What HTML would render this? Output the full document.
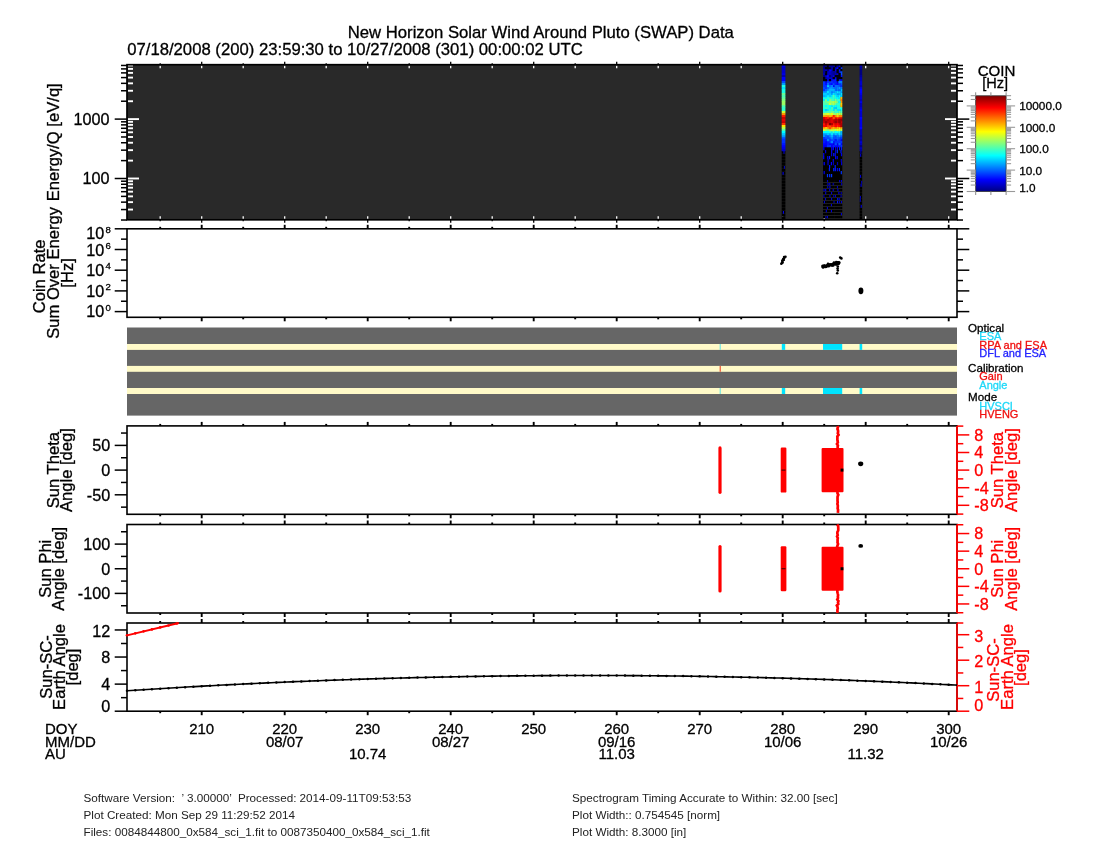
<!DOCTYPE html>
<html><head><meta charset="utf-8"><title>SWAP</title>
<style>html,body{margin:0;padding:0;background:#fff;width:1100px;height:850px;overflow:hidden}
svg{display:block} text{font-family:'Liberation Sans',sans-serif}</style></head>
<body><div style="will-change:transform;width:1100px;height:850px;background:#fff"><svg width="1100" height="850" viewBox="0 0 1100 850">
<rect x="0" y="0" width="1100" height="850" fill="#fff"/>
<text x="540.80" y="38.30" font-size="16.7" text-anchor="middle" fill="#000" stroke="#000" stroke-width="0.3" >New Horizon Solar Wind Around Pluto (SWAP) Data</text>
<text x="127.20" y="54.50" font-size="16.7" text-anchor="start" fill="#000" stroke="#000" stroke-width="0.3" >07/18/2008 (200) 23:59:30 to 10/27/2008 (301) 00:00:02 UTC</text>
<rect x="127.00" y="64.70" width="830.00" height="155.10" fill="#292929"/>
<line x1="121.00" y1="220.02" x2="127.00" y2="220.02" stroke="#000" stroke-width="1.5"/>
<line x1="127.80" y1="220.02" x2="133.00" y2="220.02" stroke="#fff" stroke-width="1.9"/>
<line x1="957.00" y1="220.02" x2="963.00" y2="220.02" stroke="#000" stroke-width="1.5"/>
<line x1="951.00" y1="220.02" x2="956.20" y2="220.02" stroke="#fff" stroke-width="1.9"/>
<line x1="121.00" y1="209.56" x2="127.00" y2="209.56" stroke="#000" stroke-width="1.5"/>
<line x1="127.80" y1="209.56" x2="133.00" y2="209.56" stroke="#fff" stroke-width="1.9"/>
<line x1="957.00" y1="209.56" x2="963.00" y2="209.56" stroke="#000" stroke-width="1.5"/>
<line x1="951.00" y1="209.56" x2="956.20" y2="209.56" stroke="#fff" stroke-width="1.9"/>
<line x1="121.00" y1="202.14" x2="127.00" y2="202.14" stroke="#000" stroke-width="1.5"/>
<line x1="127.80" y1="202.14" x2="133.00" y2="202.14" stroke="#fff" stroke-width="1.9"/>
<line x1="957.00" y1="202.14" x2="963.00" y2="202.14" stroke="#000" stroke-width="1.5"/>
<line x1="951.00" y1="202.14" x2="956.20" y2="202.14" stroke="#fff" stroke-width="1.9"/>
<line x1="121.00" y1="196.38" x2="127.00" y2="196.38" stroke="#000" stroke-width="1.5"/>
<line x1="127.80" y1="196.38" x2="133.00" y2="196.38" stroke="#fff" stroke-width="1.9"/>
<line x1="957.00" y1="196.38" x2="963.00" y2="196.38" stroke="#000" stroke-width="1.5"/>
<line x1="951.00" y1="196.38" x2="956.20" y2="196.38" stroke="#fff" stroke-width="1.9"/>
<line x1="121.00" y1="191.68" x2="127.00" y2="191.68" stroke="#000" stroke-width="1.5"/>
<line x1="127.80" y1="191.68" x2="133.00" y2="191.68" stroke="#fff" stroke-width="1.9"/>
<line x1="957.00" y1="191.68" x2="963.00" y2="191.68" stroke="#000" stroke-width="1.5"/>
<line x1="951.00" y1="191.68" x2="956.20" y2="191.68" stroke="#fff" stroke-width="1.9"/>
<line x1="121.00" y1="187.70" x2="127.00" y2="187.70" stroke="#000" stroke-width="1.5"/>
<line x1="127.80" y1="187.70" x2="133.00" y2="187.70" stroke="#fff" stroke-width="1.9"/>
<line x1="957.00" y1="187.70" x2="963.00" y2="187.70" stroke="#000" stroke-width="1.5"/>
<line x1="951.00" y1="187.70" x2="956.20" y2="187.70" stroke="#fff" stroke-width="1.9"/>
<line x1="121.00" y1="184.26" x2="127.00" y2="184.26" stroke="#000" stroke-width="1.5"/>
<line x1="127.80" y1="184.26" x2="133.00" y2="184.26" stroke="#fff" stroke-width="1.9"/>
<line x1="957.00" y1="184.26" x2="963.00" y2="184.26" stroke="#000" stroke-width="1.5"/>
<line x1="951.00" y1="184.26" x2="956.20" y2="184.26" stroke="#fff" stroke-width="1.9"/>
<line x1="121.00" y1="181.22" x2="127.00" y2="181.22" stroke="#000" stroke-width="1.5"/>
<line x1="127.80" y1="181.22" x2="133.00" y2="181.22" stroke="#fff" stroke-width="1.9"/>
<line x1="957.00" y1="181.22" x2="963.00" y2="181.22" stroke="#000" stroke-width="1.5"/>
<line x1="951.00" y1="181.22" x2="956.20" y2="181.22" stroke="#fff" stroke-width="1.9"/>
<line x1="114.70" y1="178.50" x2="127.00" y2="178.50" stroke="#000" stroke-width="1.5"/>
<line x1="127.80" y1="178.50" x2="139.00" y2="178.50" stroke="#fff" stroke-width="1.9"/>
<line x1="957.00" y1="178.50" x2="969.30" y2="178.50" stroke="#000" stroke-width="1.5"/>
<line x1="945.00" y1="178.50" x2="956.20" y2="178.50" stroke="#fff" stroke-width="1.9"/>
<line x1="121.00" y1="160.62" x2="127.00" y2="160.62" stroke="#000" stroke-width="1.5"/>
<line x1="127.80" y1="160.62" x2="133.00" y2="160.62" stroke="#fff" stroke-width="1.9"/>
<line x1="957.00" y1="160.62" x2="963.00" y2="160.62" stroke="#000" stroke-width="1.5"/>
<line x1="951.00" y1="160.62" x2="956.20" y2="160.62" stroke="#fff" stroke-width="1.9"/>
<line x1="121.00" y1="150.16" x2="127.00" y2="150.16" stroke="#000" stroke-width="1.5"/>
<line x1="127.80" y1="150.16" x2="133.00" y2="150.16" stroke="#fff" stroke-width="1.9"/>
<line x1="957.00" y1="150.16" x2="963.00" y2="150.16" stroke="#000" stroke-width="1.5"/>
<line x1="951.00" y1="150.16" x2="956.20" y2="150.16" stroke="#fff" stroke-width="1.9"/>
<line x1="121.00" y1="142.74" x2="127.00" y2="142.74" stroke="#000" stroke-width="1.5"/>
<line x1="127.80" y1="142.74" x2="133.00" y2="142.74" stroke="#fff" stroke-width="1.9"/>
<line x1="957.00" y1="142.74" x2="963.00" y2="142.74" stroke="#000" stroke-width="1.5"/>
<line x1="951.00" y1="142.74" x2="956.20" y2="142.74" stroke="#fff" stroke-width="1.9"/>
<line x1="121.00" y1="136.98" x2="127.00" y2="136.98" stroke="#000" stroke-width="1.5"/>
<line x1="127.80" y1="136.98" x2="133.00" y2="136.98" stroke="#fff" stroke-width="1.9"/>
<line x1="957.00" y1="136.98" x2="963.00" y2="136.98" stroke="#000" stroke-width="1.5"/>
<line x1="951.00" y1="136.98" x2="956.20" y2="136.98" stroke="#fff" stroke-width="1.9"/>
<line x1="121.00" y1="132.28" x2="127.00" y2="132.28" stroke="#000" stroke-width="1.5"/>
<line x1="127.80" y1="132.28" x2="133.00" y2="132.28" stroke="#fff" stroke-width="1.9"/>
<line x1="957.00" y1="132.28" x2="963.00" y2="132.28" stroke="#000" stroke-width="1.5"/>
<line x1="951.00" y1="132.28" x2="956.20" y2="132.28" stroke="#fff" stroke-width="1.9"/>
<line x1="121.00" y1="128.30" x2="127.00" y2="128.30" stroke="#000" stroke-width="1.5"/>
<line x1="127.80" y1="128.30" x2="133.00" y2="128.30" stroke="#fff" stroke-width="1.9"/>
<line x1="957.00" y1="128.30" x2="963.00" y2="128.30" stroke="#000" stroke-width="1.5"/>
<line x1="951.00" y1="128.30" x2="956.20" y2="128.30" stroke="#fff" stroke-width="1.9"/>
<line x1="121.00" y1="124.86" x2="127.00" y2="124.86" stroke="#000" stroke-width="1.5"/>
<line x1="127.80" y1="124.86" x2="133.00" y2="124.86" stroke="#fff" stroke-width="1.9"/>
<line x1="957.00" y1="124.86" x2="963.00" y2="124.86" stroke="#000" stroke-width="1.5"/>
<line x1="951.00" y1="124.86" x2="956.20" y2="124.86" stroke="#fff" stroke-width="1.9"/>
<line x1="121.00" y1="121.82" x2="127.00" y2="121.82" stroke="#000" stroke-width="1.5"/>
<line x1="127.80" y1="121.82" x2="133.00" y2="121.82" stroke="#fff" stroke-width="1.9"/>
<line x1="957.00" y1="121.82" x2="963.00" y2="121.82" stroke="#000" stroke-width="1.5"/>
<line x1="951.00" y1="121.82" x2="956.20" y2="121.82" stroke="#fff" stroke-width="1.9"/>
<line x1="114.70" y1="119.10" x2="127.00" y2="119.10" stroke="#000" stroke-width="1.5"/>
<line x1="127.80" y1="119.10" x2="139.00" y2="119.10" stroke="#fff" stroke-width="1.9"/>
<line x1="957.00" y1="119.10" x2="969.30" y2="119.10" stroke="#000" stroke-width="1.5"/>
<line x1="945.00" y1="119.10" x2="956.20" y2="119.10" stroke="#fff" stroke-width="1.9"/>
<line x1="121.00" y1="101.22" x2="127.00" y2="101.22" stroke="#000" stroke-width="1.5"/>
<line x1="127.80" y1="101.22" x2="133.00" y2="101.22" stroke="#fff" stroke-width="1.9"/>
<line x1="957.00" y1="101.22" x2="963.00" y2="101.22" stroke="#000" stroke-width="1.5"/>
<line x1="951.00" y1="101.22" x2="956.20" y2="101.22" stroke="#fff" stroke-width="1.9"/>
<line x1="121.00" y1="90.76" x2="127.00" y2="90.76" stroke="#000" stroke-width="1.5"/>
<line x1="127.80" y1="90.76" x2="133.00" y2="90.76" stroke="#fff" stroke-width="1.9"/>
<line x1="957.00" y1="90.76" x2="963.00" y2="90.76" stroke="#000" stroke-width="1.5"/>
<line x1="951.00" y1="90.76" x2="956.20" y2="90.76" stroke="#fff" stroke-width="1.9"/>
<line x1="121.00" y1="83.34" x2="127.00" y2="83.34" stroke="#000" stroke-width="1.5"/>
<line x1="127.80" y1="83.34" x2="133.00" y2="83.34" stroke="#fff" stroke-width="1.9"/>
<line x1="957.00" y1="83.34" x2="963.00" y2="83.34" stroke="#000" stroke-width="1.5"/>
<line x1="951.00" y1="83.34" x2="956.20" y2="83.34" stroke="#fff" stroke-width="1.9"/>
<line x1="121.00" y1="77.58" x2="127.00" y2="77.58" stroke="#000" stroke-width="1.5"/>
<line x1="127.80" y1="77.58" x2="133.00" y2="77.58" stroke="#fff" stroke-width="1.9"/>
<line x1="957.00" y1="77.58" x2="963.00" y2="77.58" stroke="#000" stroke-width="1.5"/>
<line x1="951.00" y1="77.58" x2="956.20" y2="77.58" stroke="#fff" stroke-width="1.9"/>
<line x1="121.00" y1="72.88" x2="127.00" y2="72.88" stroke="#000" stroke-width="1.5"/>
<line x1="127.80" y1="72.88" x2="133.00" y2="72.88" stroke="#fff" stroke-width="1.9"/>
<line x1="957.00" y1="72.88" x2="963.00" y2="72.88" stroke="#000" stroke-width="1.5"/>
<line x1="951.00" y1="72.88" x2="956.20" y2="72.88" stroke="#fff" stroke-width="1.9"/>
<line x1="121.00" y1="68.90" x2="127.00" y2="68.90" stroke="#000" stroke-width="1.5"/>
<line x1="127.80" y1="68.90" x2="133.00" y2="68.90" stroke="#fff" stroke-width="1.9"/>
<line x1="957.00" y1="68.90" x2="963.00" y2="68.90" stroke="#000" stroke-width="1.5"/>
<line x1="951.00" y1="68.90" x2="956.20" y2="68.90" stroke="#fff" stroke-width="1.9"/>
<line x1="121.00" y1="65.46" x2="127.00" y2="65.46" stroke="#000" stroke-width="1.5"/>
<line x1="127.80" y1="65.46" x2="133.00" y2="65.46" stroke="#fff" stroke-width="1.9"/>
<line x1="957.00" y1="65.46" x2="963.00" y2="65.46" stroke="#000" stroke-width="1.5"/>
<line x1="951.00" y1="65.46" x2="956.20" y2="65.46" stroke="#fff" stroke-width="1.9"/>
<line x1="160.20" y1="63.20" x2="160.20" y2="64.70" stroke="#000" stroke-width="1.3"/>
<line x1="160.20" y1="219.80" x2="160.20" y2="221.30" stroke="#000" stroke-width="1.3"/>
<line x1="160.20" y1="65.70" x2="160.20" y2="68.20" stroke="#fff" stroke-width="1.3"/>
<line x1="160.20" y1="216.30" x2="160.20" y2="218.80" stroke="#fff" stroke-width="1.3"/>
<line x1="201.70" y1="61.70" x2="201.70" y2="64.70" stroke="#000" stroke-width="1.3"/>
<line x1="201.70" y1="219.80" x2="201.70" y2="222.80" stroke="#000" stroke-width="1.3"/>
<line x1="201.70" y1="65.70" x2="201.70" y2="68.20" stroke="#fff" stroke-width="1.3"/>
<line x1="201.70" y1="216.30" x2="201.70" y2="218.80" stroke="#fff" stroke-width="1.3"/>
<line x1="243.20" y1="63.20" x2="243.20" y2="64.70" stroke="#000" stroke-width="1.3"/>
<line x1="243.20" y1="219.80" x2="243.20" y2="221.30" stroke="#000" stroke-width="1.3"/>
<line x1="243.20" y1="65.70" x2="243.20" y2="68.20" stroke="#fff" stroke-width="1.3"/>
<line x1="243.20" y1="216.30" x2="243.20" y2="218.80" stroke="#fff" stroke-width="1.3"/>
<line x1="284.70" y1="61.70" x2="284.70" y2="64.70" stroke="#000" stroke-width="1.3"/>
<line x1="284.70" y1="219.80" x2="284.70" y2="222.80" stroke="#000" stroke-width="1.3"/>
<line x1="284.70" y1="65.70" x2="284.70" y2="68.20" stroke="#fff" stroke-width="1.3"/>
<line x1="284.70" y1="216.30" x2="284.70" y2="218.80" stroke="#fff" stroke-width="1.3"/>
<line x1="326.20" y1="63.20" x2="326.20" y2="64.70" stroke="#000" stroke-width="1.3"/>
<line x1="326.20" y1="219.80" x2="326.20" y2="221.30" stroke="#000" stroke-width="1.3"/>
<line x1="326.20" y1="65.70" x2="326.20" y2="68.20" stroke="#fff" stroke-width="1.3"/>
<line x1="326.20" y1="216.30" x2="326.20" y2="218.80" stroke="#fff" stroke-width="1.3"/>
<line x1="367.70" y1="61.70" x2="367.70" y2="64.70" stroke="#000" stroke-width="1.3"/>
<line x1="367.70" y1="219.80" x2="367.70" y2="222.80" stroke="#000" stroke-width="1.3"/>
<line x1="367.70" y1="65.70" x2="367.70" y2="68.20" stroke="#fff" stroke-width="1.3"/>
<line x1="367.70" y1="216.30" x2="367.70" y2="218.80" stroke="#fff" stroke-width="1.3"/>
<line x1="409.20" y1="63.20" x2="409.20" y2="64.70" stroke="#000" stroke-width="1.3"/>
<line x1="409.20" y1="219.80" x2="409.20" y2="221.30" stroke="#000" stroke-width="1.3"/>
<line x1="409.20" y1="65.70" x2="409.20" y2="68.20" stroke="#fff" stroke-width="1.3"/>
<line x1="409.20" y1="216.30" x2="409.20" y2="218.80" stroke="#fff" stroke-width="1.3"/>
<line x1="450.70" y1="61.70" x2="450.70" y2="64.70" stroke="#000" stroke-width="1.3"/>
<line x1="450.70" y1="219.80" x2="450.70" y2="222.80" stroke="#000" stroke-width="1.3"/>
<line x1="450.70" y1="65.70" x2="450.70" y2="68.20" stroke="#fff" stroke-width="1.3"/>
<line x1="450.70" y1="216.30" x2="450.70" y2="218.80" stroke="#fff" stroke-width="1.3"/>
<line x1="492.20" y1="63.20" x2="492.20" y2="64.70" stroke="#000" stroke-width="1.3"/>
<line x1="492.20" y1="219.80" x2="492.20" y2="221.30" stroke="#000" stroke-width="1.3"/>
<line x1="492.20" y1="65.70" x2="492.20" y2="68.20" stroke="#fff" stroke-width="1.3"/>
<line x1="492.20" y1="216.30" x2="492.20" y2="218.80" stroke="#fff" stroke-width="1.3"/>
<line x1="533.70" y1="61.70" x2="533.70" y2="64.70" stroke="#000" stroke-width="1.3"/>
<line x1="533.70" y1="219.80" x2="533.70" y2="222.80" stroke="#000" stroke-width="1.3"/>
<line x1="533.70" y1="65.70" x2="533.70" y2="68.20" stroke="#fff" stroke-width="1.3"/>
<line x1="533.70" y1="216.30" x2="533.70" y2="218.80" stroke="#fff" stroke-width="1.3"/>
<line x1="575.20" y1="63.20" x2="575.20" y2="64.70" stroke="#000" stroke-width="1.3"/>
<line x1="575.20" y1="219.80" x2="575.20" y2="221.30" stroke="#000" stroke-width="1.3"/>
<line x1="575.20" y1="65.70" x2="575.20" y2="68.20" stroke="#fff" stroke-width="1.3"/>
<line x1="575.20" y1="216.30" x2="575.20" y2="218.80" stroke="#fff" stroke-width="1.3"/>
<line x1="616.70" y1="61.70" x2="616.70" y2="64.70" stroke="#000" stroke-width="1.3"/>
<line x1="616.70" y1="219.80" x2="616.70" y2="222.80" stroke="#000" stroke-width="1.3"/>
<line x1="616.70" y1="65.70" x2="616.70" y2="68.20" stroke="#fff" stroke-width="1.3"/>
<line x1="616.70" y1="216.30" x2="616.70" y2="218.80" stroke="#fff" stroke-width="1.3"/>
<line x1="658.20" y1="63.20" x2="658.20" y2="64.70" stroke="#000" stroke-width="1.3"/>
<line x1="658.20" y1="219.80" x2="658.20" y2="221.30" stroke="#000" stroke-width="1.3"/>
<line x1="658.20" y1="65.70" x2="658.20" y2="68.20" stroke="#fff" stroke-width="1.3"/>
<line x1="658.20" y1="216.30" x2="658.20" y2="218.80" stroke="#fff" stroke-width="1.3"/>
<line x1="699.70" y1="61.70" x2="699.70" y2="64.70" stroke="#000" stroke-width="1.3"/>
<line x1="699.70" y1="219.80" x2="699.70" y2="222.80" stroke="#000" stroke-width="1.3"/>
<line x1="699.70" y1="65.70" x2="699.70" y2="68.20" stroke="#fff" stroke-width="1.3"/>
<line x1="699.70" y1="216.30" x2="699.70" y2="218.80" stroke="#fff" stroke-width="1.3"/>
<line x1="741.20" y1="63.20" x2="741.20" y2="64.70" stroke="#000" stroke-width="1.3"/>
<line x1="741.20" y1="219.80" x2="741.20" y2="221.30" stroke="#000" stroke-width="1.3"/>
<line x1="741.20" y1="65.70" x2="741.20" y2="68.20" stroke="#fff" stroke-width="1.3"/>
<line x1="741.20" y1="216.30" x2="741.20" y2="218.80" stroke="#fff" stroke-width="1.3"/>
<line x1="782.70" y1="61.70" x2="782.70" y2="64.70" stroke="#000" stroke-width="1.3"/>
<line x1="782.70" y1="219.80" x2="782.70" y2="222.80" stroke="#000" stroke-width="1.3"/>
<line x1="782.70" y1="65.70" x2="782.70" y2="68.20" stroke="#fff" stroke-width="1.3"/>
<line x1="782.70" y1="216.30" x2="782.70" y2="218.80" stroke="#fff" stroke-width="1.3"/>
<line x1="824.20" y1="63.20" x2="824.20" y2="64.70" stroke="#000" stroke-width="1.3"/>
<line x1="824.20" y1="219.80" x2="824.20" y2="221.30" stroke="#000" stroke-width="1.3"/>
<line x1="824.20" y1="65.70" x2="824.20" y2="68.20" stroke="#fff" stroke-width="1.3"/>
<line x1="824.20" y1="216.30" x2="824.20" y2="218.80" stroke="#fff" stroke-width="1.3"/>
<line x1="865.70" y1="61.70" x2="865.70" y2="64.70" stroke="#000" stroke-width="1.3"/>
<line x1="865.70" y1="219.80" x2="865.70" y2="222.80" stroke="#000" stroke-width="1.3"/>
<line x1="865.70" y1="65.70" x2="865.70" y2="68.20" stroke="#fff" stroke-width="1.3"/>
<line x1="865.70" y1="216.30" x2="865.70" y2="218.80" stroke="#fff" stroke-width="1.3"/>
<line x1="907.20" y1="63.20" x2="907.20" y2="64.70" stroke="#000" stroke-width="1.3"/>
<line x1="907.20" y1="219.80" x2="907.20" y2="221.30" stroke="#000" stroke-width="1.3"/>
<line x1="907.20" y1="65.70" x2="907.20" y2="68.20" stroke="#fff" stroke-width="1.3"/>
<line x1="907.20" y1="216.30" x2="907.20" y2="218.80" stroke="#fff" stroke-width="1.3"/>
<line x1="948.70" y1="61.70" x2="948.70" y2="64.70" stroke="#000" stroke-width="1.3"/>
<line x1="948.70" y1="219.80" x2="948.70" y2="222.80" stroke="#000" stroke-width="1.3"/>
<line x1="948.70" y1="65.70" x2="948.70" y2="68.20" stroke="#fff" stroke-width="1.3"/>
<line x1="948.70" y1="216.30" x2="948.70" y2="218.80" stroke="#fff" stroke-width="1.3"/>
<path fill="#000000" d="M781.7 151.0h3.7v2.8h-3.7zM781.7 154.0h3.7v2.8h-3.7zM781.7 157.0h3.7v2.8h-3.7zM781.7 160.0h3.7v2.8h-3.7zM781.7 163.0h3.7v2.8h-3.7zM781.7 166.0h3.7v2.8h-3.7zM781.7 169.0h3.7v2.8h-3.7zM781.7 172.0h3.7v2.8h-3.7zM781.7 175.0h3.7v2.8h-3.7zM781.7 178.0h3.7v2.8h-3.7zM781.7 181.0h3.7v2.8h-3.7zM781.7 184.0h3.7v2.8h-3.7zM781.7 187.0h3.7v2.8h-3.7zM781.7 190.0h3.7v2.8h-3.7zM781.7 193.0h3.7v2.8h-3.7zM781.7 196.0h3.7v2.8h-3.7zM781.7 199.0h3.7v2.8h-3.7zM781.7 202.0h3.7v2.8h-3.7zM781.7 205.0h3.7v2.8h-3.7zM781.7 208.0h3.7v2.8h-3.7zM781.7 211.0h3.7v2.8h-3.7zM781.7 214.0h3.7v2.8h-3.7zM781.7 217.0h3.7v2.8h-3.7zM823.0 147.0h2.3v3.3h-2.3zM824.9 147.0h2.3v3.3h-2.3zM826.9 147.0h2.3v3.3h-2.3zM828.8 147.0h2.3v3.3h-2.3zM830.7 147.0h2.3v3.3h-2.3zM832.6 147.0h2.3v3.3h-2.3zM834.6 147.0h2.3v3.3h-2.3zM836.5 147.0h2.3v3.3h-2.3zM838.4 147.0h2.3v3.3h-2.3zM840.4 147.0h1.9v3.3h-1.9zM823.0 150.0h2.3v3.3h-2.3zM824.9 150.0h2.3v3.3h-2.3zM826.9 150.0h2.3v3.3h-2.3zM828.8 150.0h2.3v3.3h-2.3zM830.7 150.0h2.3v3.3h-2.3zM832.6 150.0h2.3v3.3h-2.3zM834.6 150.0h2.3v3.3h-2.3zM836.5 150.0h2.3v3.3h-2.3zM838.4 150.0h2.3v3.3h-2.3zM840.4 150.0h1.9v3.3h-1.9zM823.0 153.0h2.3v3.3h-2.3zM824.9 153.0h2.3v3.3h-2.3zM826.9 153.0h2.3v3.3h-2.3zM828.8 153.0h2.3v3.3h-2.3zM830.7 153.0h2.3v3.3h-2.3zM832.6 153.0h2.3v3.3h-2.3zM834.6 153.0h2.3v3.3h-2.3zM836.5 153.0h2.3v3.3h-2.3zM838.4 153.0h2.3v3.3h-2.3zM840.4 153.0h1.9v3.3h-1.9zM823.0 156.0h2.3v3.3h-2.3zM824.9 156.0h2.3v3.3h-2.3zM826.9 156.0h2.3v3.3h-2.3zM828.8 156.0h2.3v3.3h-2.3zM830.7 156.0h2.3v3.3h-2.3zM832.6 156.0h2.3v3.3h-2.3zM834.6 156.0h2.3v3.3h-2.3zM836.5 156.0h2.3v3.3h-2.3zM838.4 156.0h2.3v3.3h-2.3zM840.4 156.0h1.9v3.3h-1.9zM823.0 159.0h2.3v3.3h-2.3zM824.9 159.0h2.3v3.3h-2.3zM826.9 159.0h2.3v3.3h-2.3zM828.8 159.0h2.3v3.3h-2.3zM830.7 159.0h2.3v3.3h-2.3zM832.6 159.0h2.3v3.3h-2.3zM834.6 159.0h2.3v3.3h-2.3zM836.5 159.0h2.3v3.3h-2.3zM838.4 159.0h2.3v3.3h-2.3zM840.4 159.0h1.9v3.3h-1.9zM823.0 162.0h2.3v3.3h-2.3zM824.9 162.0h2.3v3.3h-2.3zM826.9 162.0h2.3v3.3h-2.3zM828.8 162.0h2.3v3.3h-2.3zM830.7 162.0h2.3v3.3h-2.3zM832.6 162.0h2.3v3.3h-2.3zM834.6 162.0h2.3v3.3h-2.3zM836.5 162.0h2.3v3.3h-2.3zM838.4 162.0h2.3v3.3h-2.3zM840.4 162.0h1.9v3.3h-1.9zM823.0 165.0h2.3v3.3h-2.3zM824.9 165.0h2.3v3.3h-2.3zM826.9 165.0h2.3v3.3h-2.3zM828.8 165.0h2.3v3.3h-2.3zM830.7 165.0h2.3v3.3h-2.3zM832.6 165.0h2.3v3.3h-2.3zM834.6 165.0h2.3v3.3h-2.3zM836.5 165.0h2.3v3.3h-2.3zM838.4 165.0h2.3v3.3h-2.3zM840.4 165.0h1.9v3.3h-1.9zM823.0 168.0h2.3v3.3h-2.3zM824.9 168.0h2.3v3.3h-2.3zM826.9 168.0h2.3v3.3h-2.3zM828.8 168.0h2.3v3.3h-2.3zM830.7 168.0h2.3v3.3h-2.3zM832.6 168.0h2.3v3.3h-2.3zM834.6 168.0h2.3v3.3h-2.3zM836.5 168.0h2.3v3.3h-2.3zM838.4 168.0h2.3v3.3h-2.3zM840.4 168.0h1.9v3.3h-1.9zM823.0 171.0h2.3v3.3h-2.3zM824.9 171.0h2.3v3.3h-2.3zM826.9 171.0h2.3v3.3h-2.3zM828.8 171.0h2.3v3.3h-2.3zM830.7 171.0h2.3v3.3h-2.3zM832.6 171.0h2.3v3.3h-2.3zM834.6 171.0h2.3v3.3h-2.3zM836.5 171.0h2.3v3.3h-2.3zM838.4 171.0h2.3v3.3h-2.3zM840.4 171.0h1.9v3.3h-1.9zM823.0 174.0h2.3v3.3h-2.3zM824.9 174.0h2.3v3.3h-2.3zM826.9 174.0h2.3v3.3h-2.3zM828.8 174.0h2.3v3.3h-2.3zM830.7 174.0h2.3v3.3h-2.3zM832.6 174.0h2.3v3.3h-2.3zM834.6 174.0h2.3v3.3h-2.3zM836.5 174.0h2.3v3.3h-2.3zM838.4 174.0h2.3v3.3h-2.3zM840.4 174.0h1.9v3.3h-1.9zM823.0 177.0h2.3v3.3h-2.3zM824.9 177.0h2.3v3.3h-2.3zM826.9 177.0h2.3v3.3h-2.3zM828.8 177.0h2.3v3.3h-2.3zM830.7 177.0h2.3v3.3h-2.3zM832.6 177.0h2.3v3.3h-2.3zM834.6 177.0h2.3v3.3h-2.3zM836.5 177.0h2.3v3.3h-2.3zM838.4 177.0h2.3v3.3h-2.3zM840.4 177.0h1.9v3.3h-1.9zM823.0 180.0h1.9v2.2h-1.9zM824.9 180.0h1.9v2.2h-1.9zM826.9 180.0h1.9v2.2h-1.9zM828.8 180.0h1.9v2.2h-1.9zM830.7 180.0h1.9v2.2h-1.9zM832.6 180.0h1.9v2.2h-1.9zM834.6 180.0h1.9v2.2h-1.9zM836.5 180.0h1.9v2.2h-1.9zM838.4 180.0h1.9v2.2h-1.9zM840.4 180.0h1.9v2.2h-1.9zM823.0 183.0h1.9v2.2h-1.9zM824.9 183.0h1.9v2.2h-1.9zM826.9 183.0h1.9v2.2h-1.9zM828.8 183.0h1.9v2.2h-1.9zM830.7 183.0h1.9v2.2h-1.9zM832.6 183.0h1.9v2.2h-1.9zM834.6 183.0h1.9v2.2h-1.9zM836.5 183.0h1.9v2.2h-1.9zM838.4 183.0h1.9v2.2h-1.9zM840.4 183.0h1.9v2.2h-1.9zM823.0 186.0h1.9v2.2h-1.9zM824.9 186.0h1.9v2.2h-1.9zM826.9 186.0h1.9v2.2h-1.9zM828.8 186.0h1.9v2.2h-1.9zM830.7 186.0h1.9v2.2h-1.9zM832.6 186.0h1.9v2.2h-1.9zM834.6 186.0h1.9v2.2h-1.9zM836.5 186.0h1.9v2.2h-1.9zM838.4 186.0h1.9v2.2h-1.9zM840.4 186.0h1.9v2.2h-1.9zM823.0 189.0h1.9v2.2h-1.9zM824.9 189.0h1.9v2.2h-1.9zM826.9 189.0h1.9v2.2h-1.9zM828.8 189.0h1.9v2.2h-1.9zM830.7 189.0h1.9v2.2h-1.9zM832.6 189.0h1.9v2.2h-1.9zM834.6 189.0h1.9v2.2h-1.9zM836.5 189.0h1.9v2.2h-1.9zM838.4 189.0h1.9v2.2h-1.9zM840.4 189.0h1.9v2.2h-1.9zM823.0 192.0h1.9v2.2h-1.9zM824.9 192.0h1.9v2.2h-1.9zM826.9 192.0h1.9v2.2h-1.9zM828.8 192.0h1.9v2.2h-1.9zM830.7 192.0h1.9v2.2h-1.9zM832.6 192.0h1.9v2.2h-1.9zM834.6 192.0h1.9v2.2h-1.9zM836.5 192.0h1.9v2.2h-1.9zM838.4 192.0h1.9v2.2h-1.9zM840.4 192.0h1.9v2.2h-1.9zM823.0 195.0h1.9v2.2h-1.9zM824.9 195.0h1.9v2.2h-1.9zM826.9 195.0h1.9v2.2h-1.9zM828.8 195.0h1.9v2.2h-1.9zM830.7 195.0h1.9v2.2h-1.9zM832.6 195.0h1.9v2.2h-1.9zM834.6 195.0h1.9v2.2h-1.9zM836.5 195.0h1.9v2.2h-1.9zM838.4 195.0h1.9v2.2h-1.9zM840.4 195.0h1.9v2.2h-1.9zM823.0 198.0h1.9v2.2h-1.9zM824.9 198.0h1.9v2.2h-1.9zM826.9 198.0h1.9v2.2h-1.9zM828.8 198.0h1.9v2.2h-1.9zM830.7 198.0h1.9v2.2h-1.9zM832.6 198.0h1.9v2.2h-1.9zM834.6 198.0h1.9v2.2h-1.9zM836.5 198.0h1.9v2.2h-1.9zM838.4 198.0h1.9v2.2h-1.9zM840.4 198.0h1.9v2.2h-1.9zM823.0 201.0h1.9v2.2h-1.9zM824.9 201.0h1.9v2.2h-1.9zM826.9 201.0h1.9v2.2h-1.9zM828.8 201.0h1.9v2.2h-1.9zM830.7 201.0h1.9v2.2h-1.9zM832.6 201.0h1.9v2.2h-1.9zM834.6 201.0h1.9v2.2h-1.9zM836.5 201.0h1.9v2.2h-1.9zM838.4 201.0h1.9v2.2h-1.9zM840.4 201.0h1.9v2.2h-1.9zM823.0 204.0h1.9v2.2h-1.9zM824.9 204.0h1.9v2.2h-1.9zM826.9 204.0h1.9v2.2h-1.9zM828.8 204.0h1.9v2.2h-1.9zM830.7 204.0h1.9v2.2h-1.9zM832.6 204.0h1.9v2.2h-1.9zM834.6 204.0h1.9v2.2h-1.9zM836.5 204.0h1.9v2.2h-1.9zM838.4 204.0h1.9v2.2h-1.9zM840.4 204.0h1.9v2.2h-1.9zM823.0 207.0h1.9v2.2h-1.9zM824.9 207.0h1.9v2.2h-1.9zM826.9 207.0h1.9v2.2h-1.9zM828.8 207.0h1.9v2.2h-1.9zM830.7 207.0h1.9v2.2h-1.9zM832.6 207.0h1.9v2.2h-1.9zM834.6 207.0h1.9v2.2h-1.9zM836.5 207.0h1.9v2.2h-1.9zM838.4 207.0h1.9v2.2h-1.9zM840.4 207.0h1.9v2.2h-1.9zM823.0 210.0h1.9v2.2h-1.9zM824.9 210.0h1.9v2.2h-1.9zM826.9 210.0h1.9v2.2h-1.9zM828.8 210.0h1.9v2.2h-1.9zM830.7 210.0h1.9v2.2h-1.9zM832.6 210.0h1.9v2.2h-1.9zM834.6 210.0h1.9v2.2h-1.9zM836.5 210.0h1.9v2.2h-1.9zM838.4 210.0h1.9v2.2h-1.9zM840.4 210.0h1.9v2.2h-1.9zM823.0 213.0h1.9v2.2h-1.9zM824.9 213.0h1.9v2.2h-1.9zM826.9 213.0h1.9v2.2h-1.9zM828.8 213.0h1.9v2.2h-1.9zM830.7 213.0h1.9v2.2h-1.9zM832.6 213.0h1.9v2.2h-1.9zM834.6 213.0h1.9v2.2h-1.9zM836.5 213.0h1.9v2.2h-1.9zM838.4 213.0h1.9v2.2h-1.9zM840.4 213.0h1.9v2.2h-1.9zM823.0 216.0h1.9v2.2h-1.9zM824.9 216.0h1.9v2.2h-1.9zM826.9 216.0h1.9v2.2h-1.9zM828.8 216.0h1.9v2.2h-1.9zM830.7 216.0h1.9v2.2h-1.9zM832.6 216.0h1.9v2.2h-1.9zM834.6 216.0h1.9v2.2h-1.9zM836.5 216.0h1.9v2.2h-1.9zM838.4 216.0h1.9v2.2h-1.9zM840.4 216.0h1.9v2.2h-1.9zM823.0 219.0h1.9v0.8h-1.9zM824.9 219.0h1.9v0.8h-1.9zM826.9 219.0h1.9v0.8h-1.9zM828.8 219.0h1.9v0.8h-1.9zM830.7 219.0h1.9v0.8h-1.9zM832.6 219.0h1.9v0.8h-1.9zM834.6 219.0h1.9v0.8h-1.9zM836.5 219.0h1.9v0.8h-1.9zM838.4 219.0h1.9v0.8h-1.9zM840.4 219.0h1.9v0.8h-1.9zM859.6 151.0h2.6v2.8h-2.6zM859.6 154.0h2.6v2.8h-2.6zM859.6 157.0h2.6v2.8h-2.6zM859.6 160.0h2.6v2.8h-2.6zM859.6 163.0h2.6v2.8h-2.6zM859.6 166.0h2.6v2.8h-2.6zM859.6 169.0h2.6v2.8h-2.6zM859.6 172.0h2.6v2.8h-2.6zM859.6 175.0h2.6v2.8h-2.6zM859.6 178.0h2.6v2.8h-2.6zM859.6 181.0h2.6v2.8h-2.6zM859.6 184.0h2.6v2.8h-2.6zM859.6 187.0h2.6v2.8h-2.6zM859.6 190.0h2.6v2.8h-2.6zM859.6 193.0h2.6v2.8h-2.6zM859.6 196.0h2.6v2.8h-2.6zM859.6 199.0h2.6v2.8h-2.6zM859.6 202.0h2.6v2.8h-2.6zM859.6 205.0h2.6v2.8h-2.6zM859.6 208.0h2.6v2.8h-2.6zM859.6 211.0h2.6v2.8h-2.6zM859.6 214.0h2.6v2.8h-2.6zM859.6 217.0h2.6v2.8h-2.6z"/>
<path fill="#0000e5" d="M781.7 65.0h3.7v2.3h-3.7zM781.7 73.0h3.7v2.3h-3.7zM781.7 147.0h3.7v2.3h-3.7zM783.5 151.0h1.0v2.8h-1.0zM834.6 69.0h2.3v2.3h-2.3zM838.4 71.0h2.3v2.3h-2.3zM832.6 75.0h2.3v2.3h-2.3zM824.9 81.0h2.3v2.3h-2.3zM840.4 139.0h1.9v2.3h-1.9zM832.6 143.0h2.3v2.3h-2.3zM836.5 143.0h2.3v2.3h-2.3zM823.0 145.0h2.3v2.3h-2.3zM824.9 145.0h2.3v2.3h-2.3zM830.7 145.0h2.3v2.3h-2.3zM823.2 147.0h1.2v3.3h-1.2zM836.8 147.0h1.2v3.3h-1.2zM823.1 153.0h1.2v3.3h-1.2zM834.7 153.0h1.2v3.3h-1.2zM840.9 153.0h1.2v3.3h-1.2zM827.1 156.0h1.2v3.3h-1.2zM835.0 156.0h1.2v3.3h-1.2zM836.7 156.0h1.2v3.3h-1.2zM827.5 159.0h1.2v3.3h-1.2zM832.7 159.0h1.2v3.3h-1.2zM836.8 168.0h1.2v3.3h-1.2zM823.6 171.0h1.2v3.3h-1.2zM840.9 180.0h1.0v2.2h-1.0zM827.3 186.0h1.0v2.2h-1.0zM829.2 189.0h1.0v2.2h-1.0zM832.7 189.0h1.0v2.2h-1.0zM837.4 189.0h1.0v2.2h-1.0zM825.2 192.0h1.0v2.2h-1.0zM831.1 192.0h1.0v2.2h-1.0zM829.4 195.0h1.0v2.2h-1.0zM824.9 198.0h1.0v2.2h-1.0zM831.1 198.0h1.0v2.2h-1.0zM838.7 198.0h1.0v2.2h-1.0zM823.9 201.0h1.0v2.2h-1.0zM838.8 201.0h1.0v2.2h-1.0zM840.9 201.0h1.0v2.2h-1.0zM830.9 204.0h1.0v2.2h-1.0zM826.9 207.0h1.0v2.2h-1.0zM825.8 210.0h1.0v2.2h-1.0zM830.9 210.0h1.0v2.2h-1.0zM840.9 213.0h1.0v2.2h-1.0zM859.6 87.0h2.6v2.3h-2.6zM859.6 93.0h2.6v2.3h-2.6zM859.6 101.0h2.6v2.3h-2.6zM859.6 109.0h2.6v2.3h-2.6zM859.6 119.0h2.6v2.3h-2.6zM859.6 121.0h2.6v2.3h-2.6zM859.6 123.0h2.6v2.3h-2.6zM859.6 125.0h2.6v2.3h-2.6zM860.2 154.0h1.0v2.8h-1.0zM860.1 175.0h1.0v2.8h-1.0z"/>
<path fill="#0000cc" d="M781.7 67.0h3.7v2.3h-3.7zM781.7 69.0h3.7v2.3h-3.7zM781.7 71.0h3.7v2.3h-3.7zM781.7 149.0h3.7v2.3h-3.7zM783.9 166.0h1.0v2.8h-1.0zM830.7 69.0h2.3v2.3h-2.3zM826.9 71.0h2.3v2.3h-2.3zM828.8 71.0h2.3v2.3h-2.3zM826.9 73.0h2.3v2.3h-2.3zM828.8 73.0h2.3v2.3h-2.3zM836.5 73.0h2.3v2.3h-2.3zM824.9 75.0h2.3v2.3h-2.3zM826.9 77.0h2.3v2.3h-2.3zM828.8 77.0h2.3v2.3h-2.3zM830.7 77.0h2.3v2.3h-2.3zM836.5 81.0h2.3v2.3h-2.3zM835.0 147.0h1.2v3.3h-1.2zM825.0 150.0h1.2v3.3h-1.2zM834.9 150.0h1.2v3.3h-1.2zM831.0 153.0h1.2v3.3h-1.2zM840.7 159.0h1.2v3.3h-1.2zM827.4 162.0h1.2v3.3h-1.2zM841.0 162.0h1.2v3.3h-1.2zM827.1 180.0h1.0v2.2h-1.0zM839.1 180.0h1.0v2.2h-1.0zM832.7 183.0h1.0v2.2h-1.0zM841.2 183.0h1.0v2.2h-1.0zM836.9 186.0h1.0v2.2h-1.0zM840.7 192.0h1.0v2.2h-1.0zM823.4 195.0h1.0v2.2h-1.0zM833.3 195.0h1.0v2.2h-1.0zM835.0 195.0h1.0v2.2h-1.0zM840.6 195.0h1.0v2.2h-1.0zM833.5 201.0h1.0v2.2h-1.0zM825.4 216.0h1.0v2.2h-1.0zM827.0 216.0h1.0v2.2h-1.0zM859.6 81.0h2.6v2.3h-2.6zM859.6 83.0h2.6v2.3h-2.6zM859.6 95.0h2.6v2.3h-2.6zM859.6 97.0h2.6v2.3h-2.6zM859.6 107.0h2.6v2.3h-2.6zM859.6 111.0h2.6v2.3h-2.6zM859.6 113.0h2.6v2.3h-2.6zM859.6 115.0h2.6v2.3h-2.6zM859.6 141.0h2.6v2.3h-2.6zM860.4 151.0h1.0v2.8h-1.0zM861.2 181.0h1.0v2.8h-1.0zM859.9 196.0h1.0v2.8h-1.0zM859.8 199.0h1.0v2.8h-1.0z"/>
<path fill="#0000b2" d="M781.7 75.0h3.7v2.3h-3.7zM834.6 67.0h2.3v2.3h-2.3zM824.9 69.0h2.3v2.3h-2.3zM830.7 71.0h2.3v2.3h-2.3zM834.6 71.0h2.3v2.3h-2.3zM823.0 73.0h2.3v2.3h-2.3zM830.7 73.0h2.3v2.3h-2.3zM834.6 73.0h2.3v2.3h-2.3zM830.7 75.0h2.3v2.3h-2.3zM824.9 77.0h2.3v2.3h-2.3zM832.8 162.0h1.2v3.3h-1.2zM836.9 162.0h1.2v3.3h-1.2zM859.6 65.0h2.6v2.3h-2.6zM859.6 77.0h2.6v2.3h-2.6zM859.6 79.0h2.6v2.3h-2.6zM859.6 85.0h2.6v2.3h-2.6zM859.6 99.0h2.6v2.3h-2.6zM859.6 103.0h2.6v2.3h-2.6zM859.6 105.0h2.6v2.3h-2.6zM859.6 129.0h2.6v2.3h-2.6zM859.6 131.0h2.6v2.3h-2.6zM859.6 133.0h2.6v2.3h-2.6zM859.6 137.0h2.6v2.3h-2.6zM859.6 143.0h2.6v2.3h-2.6zM859.6 147.0h2.6v2.3h-2.6z"/>
<path fill="#0000ff" d="M781.7 77.0h3.7v2.3h-3.7zM781.7 79.0h3.7v2.3h-3.7zM781.7 145.0h3.7v2.3h-3.7zM782.6 172.0h1.0v2.8h-1.0zM782.9 211.0h1.0v2.8h-1.0zM838.4 65.0h2.3v2.3h-2.3zM836.5 67.0h2.3v2.3h-2.3zM828.8 69.0h2.3v2.3h-2.3zM826.9 75.0h2.3v2.3h-2.3zM834.6 77.0h2.3v2.3h-2.3zM826.9 79.0h2.3v2.3h-2.3zM830.7 79.0h2.3v2.3h-2.3zM840.4 79.0h1.9v2.3h-1.9zM824.9 83.0h2.3v2.3h-2.3zM830.7 83.0h2.3v2.3h-2.3zM836.5 83.0h2.3v2.3h-2.3zM832.6 85.0h2.3v2.3h-2.3zM824.9 141.0h2.3v2.3h-2.3zM823.0 143.0h2.3v2.3h-2.3zM824.9 143.0h2.3v2.3h-2.3zM828.8 143.0h2.3v2.3h-2.3zM830.7 143.0h2.3v2.3h-2.3zM840.4 143.0h1.9v2.3h-1.9zM834.6 145.0h2.3v2.3h-2.3zM836.5 145.0h2.3v2.3h-2.3zM831.2 147.0h1.2v3.3h-1.2zM832.8 147.0h1.2v3.3h-1.2zM831.1 150.0h1.2v3.3h-1.2zM823.1 156.0h1.2v3.3h-1.2zM823.6 162.0h1.2v3.3h-1.2zM830.8 162.0h1.2v3.3h-1.2zM827.5 183.0h1.0v2.2h-1.0zM829.3 183.0h1.0v2.2h-1.0zM829.4 186.0h1.0v2.2h-1.0zM823.5 189.0h1.0v2.2h-1.0zM825.2 189.0h1.0v2.2h-1.0zM838.4 192.0h1.0v2.2h-1.0zM839.4 219.0h1.0v0.8h-1.0zM859.6 89.0h2.6v2.3h-2.6zM859.6 91.0h2.6v2.3h-2.6zM859.6 117.0h2.6v2.3h-2.6zM859.6 127.0h2.6v2.3h-2.6zM860.6 184.0h1.0v2.8h-1.0zM860.7 205.0h1.0v2.8h-1.0z"/>
<path fill="#004cff" d="M781.7 81.0h3.7v2.3h-3.7zM781.7 137.0h3.7v2.3h-3.7zM840.4 71.0h1.9v2.3h-1.9zM840.4 73.0h1.9v2.3h-1.9zM832.6 83.0h2.3v2.3h-2.3zM840.4 83.0h1.9v2.3h-1.9zM838.4 85.0h2.3v2.3h-2.3zM823.0 87.0h2.3v2.3h-2.3zM826.9 135.0h2.3v2.3h-2.3zM834.6 135.0h2.3v2.3h-2.3zM824.9 137.0h2.3v2.3h-2.3zM826.9 137.0h2.3v2.3h-2.3zM828.8 137.0h2.3v2.3h-2.3zM832.6 137.0h2.3v2.3h-2.3zM834.6 137.0h2.3v2.3h-2.3zM838.4 137.0h2.3v2.3h-2.3zM830.7 139.0h2.3v2.3h-2.3zM832.6 139.0h2.3v2.3h-2.3zM836.5 139.0h2.3v2.3h-2.3zM834.6 143.0h2.3v2.3h-2.3z"/>
<path fill="#0099ff" d="M781.7 83.0h3.7v2.3h-3.7zM781.7 135.0h3.7v2.3h-3.7zM828.8 87.0h2.3v2.3h-2.3zM830.7 87.0h2.3v2.3h-2.3zM838.4 87.0h2.3v2.3h-2.3zM826.9 89.0h2.3v2.3h-2.3zM823.0 91.0h2.3v2.3h-2.3zM824.9 91.0h2.3v2.3h-2.3zM832.6 91.0h2.3v2.3h-2.3zM840.4 91.0h1.9v2.3h-1.9zM830.7 93.0h2.3v2.3h-2.3zM836.5 93.0h2.3v2.3h-2.3zM823.0 133.0h2.3v2.3h-2.3zM824.9 133.0h2.3v2.3h-2.3zM828.8 133.0h2.3v2.3h-2.3zM832.6 133.0h2.3v2.3h-2.3zM836.5 133.0h2.3v2.3h-2.3zM823.0 135.0h2.3v2.3h-2.3zM838.4 135.0h2.3v2.3h-2.3z"/>
<path fill="#19ffe5" d="M781.7 85.0h3.7v2.3h-3.7zM781.7 89.0h3.7v2.3h-3.7zM781.7 91.0h3.7v2.3h-3.7zM823.0 97.0h2.3v2.3h-2.3zM830.7 97.0h2.3v2.3h-2.3zM834.6 97.0h2.3v2.3h-2.3zM832.6 105.0h2.3v2.3h-2.3zM836.5 105.0h2.3v2.3h-2.3zM838.4 105.0h2.3v2.3h-2.3zM836.5 107.0h2.3v2.3h-2.3zM838.4 107.0h2.3v2.3h-2.3zM840.4 107.0h1.9v2.3h-1.9zM840.4 109.0h1.9v2.3h-1.9zM828.8 131.0h2.3v2.3h-2.3zM838.4 131.0h2.3v2.3h-2.3z"/>
<path fill="#00e5ff" d="M781.7 87.0h3.7v2.3h-3.7zM826.9 85.0h2.3v2.3h-2.3zM826.9 91.0h2.3v2.3h-2.3zM836.5 91.0h2.3v2.3h-2.3zM832.6 93.0h2.3v2.3h-2.3zM840.4 93.0h1.9v2.3h-1.9zM830.7 95.0h2.3v2.3h-2.3zM838.4 97.0h2.3v2.3h-2.3zM823.0 99.0h2.3v2.3h-2.3zM830.7 105.0h2.3v2.3h-2.3zM832.6 107.0h2.3v2.3h-2.3zM826.9 109.0h2.3v2.3h-2.3zM832.6 109.0h2.3v2.3h-2.3zM836.5 109.0h2.3v2.3h-2.3zM838.4 109.0h2.3v2.3h-2.3zM830.7 131.0h2.3v2.3h-2.3zM830.7 133.0h2.3v2.3h-2.3zM838.4 133.0h2.3v2.3h-2.3z"/>
<path fill="#65ff99" d="M781.7 93.0h3.7v2.3h-3.7zM781.7 97.0h3.7v2.3h-3.7zM824.9 101.0h2.3v2.3h-2.3zM836.5 101.0h2.3v2.3h-2.3zM834.6 103.0h2.3v2.3h-2.3zM832.6 111.0h2.3v2.3h-2.3zM838.4 111.0h2.3v2.3h-2.3zM826.9 129.0h2.3v2.3h-2.3z"/>
<path fill="#4cffb2" d="M781.7 95.0h3.7v2.3h-3.7zM781.7 105.0h3.7v2.3h-3.7zM781.7 129.0h3.7v2.3h-3.7zM832.6 95.0h2.3v2.3h-2.3zM830.7 99.0h2.3v2.3h-2.3zM823.0 101.0h2.3v2.3h-2.3zM823.0 103.0h2.3v2.3h-2.3zM824.9 103.0h2.3v2.3h-2.3zM826.9 103.0h2.3v2.3h-2.3zM824.9 107.0h2.3v2.3h-2.3zM830.7 107.0h2.3v2.3h-2.3zM834.6 109.0h2.3v2.3h-2.3zM824.9 111.0h2.3v2.3h-2.3zM826.9 111.0h2.3v2.3h-2.3zM828.8 111.0h2.3v2.3h-2.3zM840.4 111.0h1.9v2.3h-1.9z"/>
<path fill="#7fff7f" d="M781.7 99.0h3.7v2.3h-3.7zM824.9 99.0h2.3v2.3h-2.3zM828.8 99.0h2.3v2.3h-2.3zM834.6 99.0h2.3v2.3h-2.3zM826.9 101.0h2.3v2.3h-2.3zM830.7 103.0h2.3v2.3h-2.3zM830.7 111.0h2.3v2.3h-2.3zM824.9 129.0h2.3v2.3h-2.3z"/>
<path fill="#99ff65" d="M781.7 101.0h3.7v2.3h-3.7zM781.7 103.0h3.7v2.3h-3.7zM828.8 101.0h2.3v2.3h-2.3zM830.7 101.0h2.3v2.3h-2.3zM834.6 101.0h2.3v2.3h-2.3zM832.6 103.0h2.3v2.3h-2.3zM832.6 113.0h2.3v2.3h-2.3zM834.6 113.0h2.3v2.3h-2.3zM840.4 113.0h1.9v2.3h-1.9zM828.8 129.0h2.3v2.3h-2.3z"/>
<path fill="#32ffcc" d="M781.7 107.0h3.7v2.3h-3.7zM781.7 109.0h3.7v2.3h-3.7zM826.9 97.0h2.3v2.3h-2.3zM828.8 97.0h2.3v2.3h-2.3zM832.6 97.0h2.3v2.3h-2.3zM832.6 99.0h2.3v2.3h-2.3zM836.5 99.0h2.3v2.3h-2.3zM838.4 99.0h2.3v2.3h-2.3zM836.5 103.0h2.3v2.3h-2.3zM838.4 103.0h2.3v2.3h-2.3zM823.0 105.0h2.3v2.3h-2.3zM826.9 105.0h2.3v2.3h-2.3zM823.0 107.0h2.3v2.3h-2.3zM826.9 107.0h2.3v2.3h-2.3zM828.8 109.0h2.3v2.3h-2.3zM830.7 109.0h2.3v2.3h-2.3zM823.0 111.0h2.3v2.3h-2.3zM834.6 111.0h2.3v2.3h-2.3zM836.5 111.0h2.3v2.3h-2.3zM832.6 131.0h2.3v2.3h-2.3z"/>
<path fill="#cbff33" d="M781.7 111.0h3.7v2.3h-3.7zM828.8 103.0h2.3v2.3h-2.3zM824.9 113.0h2.3v2.3h-2.3zM836.5 113.0h2.3v2.3h-2.3zM823.0 129.0h2.3v2.3h-2.3zM830.7 129.0h2.3v2.3h-2.3zM838.4 129.0h2.3v2.3h-2.3z"/>
<path fill="#ff9900" d="M781.7 113.0h3.7v2.3h-3.7zM840.4 101.0h1.9v2.3h-1.9zM823.0 115.0h2.3v2.3h-2.3zM824.9 115.0h2.3v2.3h-2.3zM830.7 115.0h2.3v2.3h-2.3zM826.9 127.0h2.3v2.3h-2.3zM830.7 127.0h2.3v2.3h-2.3zM834.6 127.0h2.3v2.3h-2.3z"/>
<path fill="#ff1900" d="M781.7 115.0h3.7v2.3h-3.7zM832.6 115.0h2.3v2.3h-2.3zM826.9 117.0h2.3v2.3h-2.3zM836.5 117.0h2.3v2.3h-2.3zM823.0 123.0h2.3v2.3h-2.3zM826.9 123.0h2.3v2.3h-2.3zM832.6 123.0h2.3v2.3h-2.3zM830.7 125.0h2.3v2.3h-2.3z"/>
<path fill="#cb0000" d="M781.7 117.0h3.7v2.3h-3.7zM781.7 121.0h3.7v2.3h-3.7zM823.0 117.0h2.3v2.3h-2.3zM828.8 117.0h2.3v2.3h-2.3zM840.4 117.0h1.9v2.3h-1.9zM824.9 119.0h2.3v2.3h-2.3zM828.8 119.0h2.3v2.3h-2.3zM832.6 119.0h2.3v2.3h-2.3zM836.5 119.0h2.3v2.3h-2.3zM823.0 121.0h2.3v2.3h-2.3zM826.9 121.0h2.3v2.3h-2.3zM828.8 121.0h2.3v2.3h-2.3zM832.6 121.0h2.3v2.3h-2.3zM836.5 121.0h2.3v2.3h-2.3zM840.4 121.0h1.9v2.3h-1.9zM824.9 123.0h2.3v2.3h-2.3zM838.4 123.0h2.3v2.3h-2.3z"/>
<path fill="#e50000" d="M781.7 119.0h3.7v2.3h-3.7zM830.7 117.0h2.3v2.3h-2.3zM834.6 117.0h2.3v2.3h-2.3zM838.4 117.0h2.3v2.3h-2.3zM830.7 119.0h2.3v2.3h-2.3zM830.7 121.0h2.3v2.3h-2.3zM834.6 123.0h2.3v2.3h-2.3zM824.9 125.0h2.3v2.3h-2.3z"/>
<path fill="#ff3300" d="M781.7 123.0h3.7v2.3h-3.7zM826.9 125.0h2.3v2.3h-2.3zM832.6 125.0h2.3v2.3h-2.3zM836.5 125.0h2.3v2.3h-2.3z"/>
<path fill="#ffe500" d="M781.7 125.0h3.7v2.3h-3.7zM838.4 127.0h2.3v2.3h-2.3z"/>
<path fill="#b2ff4c" d="M781.7 127.0h3.7v2.3h-3.7zM832.6 101.0h2.3v2.3h-2.3zM823.0 113.0h2.3v2.3h-2.3zM828.8 113.0h2.3v2.3h-2.3zM838.4 113.0h2.3v2.3h-2.3zM832.6 129.0h2.3v2.3h-2.3zM834.6 129.0h2.3v2.3h-2.3zM840.4 129.0h1.9v2.3h-1.9z"/>
<path fill="#00ffff" d="M781.7 131.0h3.7v2.3h-3.7zM826.9 95.0h2.3v2.3h-2.3zM834.6 95.0h2.3v2.3h-2.3zM838.4 95.0h2.3v2.3h-2.3zM824.9 97.0h2.3v2.3h-2.3zM836.5 97.0h2.3v2.3h-2.3zM826.9 99.0h2.3v2.3h-2.3zM838.4 101.0h2.3v2.3h-2.3zM824.9 105.0h2.3v2.3h-2.3zM828.8 105.0h2.3v2.3h-2.3zM834.6 105.0h2.3v2.3h-2.3zM828.8 107.0h2.3v2.3h-2.3zM823.0 109.0h2.3v2.3h-2.3zM823.0 131.0h2.3v2.3h-2.3zM824.9 131.0h2.3v2.3h-2.3zM826.9 131.0h2.3v2.3h-2.3zM834.6 131.0h2.3v2.3h-2.3zM836.5 131.0h2.3v2.3h-2.3z"/>
<path fill="#00ccff" d="M781.7 133.0h3.7v2.3h-3.7zM840.4 89.0h1.9v2.3h-1.9zM838.4 91.0h2.3v2.3h-2.3zM823.0 93.0h2.3v2.3h-2.3zM824.9 93.0h2.3v2.3h-2.3zM828.8 93.0h2.3v2.3h-2.3zM834.6 93.0h2.3v2.3h-2.3zM824.9 95.0h2.3v2.3h-2.3zM828.8 95.0h2.3v2.3h-2.3zM836.5 95.0h2.3v2.3h-2.3zM840.4 95.0h1.9v2.3h-1.9zM834.6 107.0h2.3v2.3h-2.3zM824.9 109.0h2.3v2.3h-2.3zM826.9 133.0h2.3v2.3h-2.3zM834.6 133.0h2.3v2.3h-2.3z"/>
<path fill="#0032ff" d="M781.7 139.0h3.7v2.3h-3.7zM781.7 141.0h3.7v2.3h-3.7zM840.4 67.0h1.9v2.3h-1.9zM823.0 81.0h2.3v2.3h-2.3zM826.9 81.0h2.3v2.3h-2.3zM828.8 81.0h2.3v2.3h-2.3zM830.7 81.0h2.3v2.3h-2.3zM823.0 83.0h2.3v2.3h-2.3zM838.4 83.0h2.3v2.3h-2.3zM823.0 85.0h2.3v2.3h-2.3zM824.9 85.0h2.3v2.3h-2.3zM840.4 85.0h1.9v2.3h-1.9zM824.9 87.0h2.3v2.3h-2.3zM823.0 89.0h2.3v2.3h-2.3zM823.0 137.0h2.3v2.3h-2.3zM840.4 137.0h1.9v2.3h-1.9zM828.8 139.0h2.3v2.3h-2.3zM838.4 139.0h2.3v2.3h-2.3zM828.8 141.0h2.3v2.3h-2.3zM834.6 141.0h2.3v2.3h-2.3zM836.5 141.0h2.3v2.3h-2.3zM838.4 141.0h2.3v2.3h-2.3zM840.4 141.0h1.9v2.3h-1.9zM826.9 145.0h2.3v2.3h-2.3zM828.8 145.0h2.3v2.3h-2.3zM840.4 145.0h1.9v2.3h-1.9zM836.7 150.0h1.2v3.3h-1.2zM840.7 171.0h1.2v3.3h-1.2zM826.9 174.0h1.2v3.3h-1.2zM829.1 174.0h1.2v3.3h-1.2zM831.0 174.0h1.2v3.3h-1.2z"/>
<path fill="#0019ff" d="M781.7 143.0h3.7v2.3h-3.7zM838.4 69.0h2.3v2.3h-2.3zM840.4 75.0h1.9v2.3h-1.9zM832.6 79.0h2.3v2.3h-2.3zM834.6 79.0h2.3v2.3h-2.3zM838.4 79.0h2.3v2.3h-2.3zM832.6 81.0h2.3v2.3h-2.3zM834.6 81.0h2.3v2.3h-2.3zM828.8 83.0h2.3v2.3h-2.3zM834.6 83.0h2.3v2.3h-2.3zM823.0 139.0h2.3v2.3h-2.3zM824.9 139.0h2.3v2.3h-2.3zM834.6 139.0h2.3v2.3h-2.3zM823.0 141.0h2.3v2.3h-2.3zM826.9 141.0h2.3v2.3h-2.3zM832.6 141.0h2.3v2.3h-2.3zM826.9 143.0h2.3v2.3h-2.3zM832.6 145.0h2.3v2.3h-2.3zM838.4 145.0h2.3v2.3h-2.3zM839.0 147.0h1.2v3.3h-1.2zM840.9 147.0h1.2v3.3h-1.2zM840.4 150.0h1.2v3.3h-1.2zM833.2 153.0h1.2v3.3h-1.2zM828.9 156.0h1.2v3.3h-1.2zM829.0 165.0h1.2v3.3h-1.2zM834.6 165.0h1.2v3.3h-1.2zM828.8 168.0h1.2v3.3h-1.2zM833.1 168.0h1.2v3.3h-1.2zM834.7 168.0h1.2v3.3h-1.2zM838.8 168.0h1.2v3.3h-1.2zM837.2 198.0h1.0v2.2h-1.0zM837.0 201.0h1.0v2.2h-1.0z"/>
<path fill="#00007f" d="M823.0 65.0h2.3v2.3h-2.3zM824.9 65.0h2.3v2.3h-2.3zM823.0 67.0h2.3v2.3h-2.3zM826.9 69.0h2.3v2.3h-2.3zM823.0 75.0h2.3v2.3h-2.3zM828.8 75.0h2.3v2.3h-2.3zM859.6 69.0h2.6v2.3h-2.6zM859.6 71.0h2.6v2.3h-2.6zM859.6 73.0h2.6v2.3h-2.6zM859.6 145.0h2.6v2.3h-2.6z"/>
<path fill="#000010" d="M826.9 65.0h2.3v2.3h-2.3zM834.6 65.0h2.3v2.3h-2.3zM840.4 65.0h1.9v2.3h-1.9zM824.9 67.0h2.3v2.3h-2.3zM826.9 67.0h2.3v2.3h-2.3zM828.8 67.0h2.3v2.3h-2.3zM832.6 67.0h2.3v2.3h-2.3zM838.4 67.0h2.3v2.3h-2.3zM832.6 69.0h2.3v2.3h-2.3zM836.5 69.0h2.3v2.3h-2.3zM840.4 69.0h1.9v2.3h-1.9zM824.9 71.0h2.3v2.3h-2.3zM836.5 71.0h2.3v2.3h-2.3zM824.9 73.0h2.3v2.3h-2.3zM838.4 73.0h2.3v2.3h-2.3zM834.6 75.0h2.3v2.3h-2.3zM836.5 75.0h2.3v2.3h-2.3zM838.4 75.0h2.3v2.3h-2.3zM823.0 77.0h2.3v2.3h-2.3zM832.6 77.0h2.3v2.3h-2.3zM836.5 77.0h2.3v2.3h-2.3zM838.4 77.0h2.3v2.3h-2.3zM840.4 77.0h1.9v2.3h-1.9zM823.0 79.0h2.3v2.3h-2.3zM824.9 79.0h2.3v2.3h-2.3zM828.8 79.0h2.3v2.3h-2.3zM836.5 79.0h2.3v2.3h-2.3z"/>
<path fill="#000099" d="M828.8 65.0h2.3v2.3h-2.3zM830.7 65.0h2.3v2.3h-2.3zM832.6 65.0h2.3v2.3h-2.3zM836.5 65.0h2.3v2.3h-2.3zM830.7 67.0h2.3v2.3h-2.3zM823.0 69.0h2.3v2.3h-2.3zM823.0 71.0h2.3v2.3h-2.3zM832.6 71.0h2.3v2.3h-2.3zM832.6 73.0h2.3v2.3h-2.3zM859.6 67.0h2.6v2.3h-2.6zM859.6 75.0h2.6v2.3h-2.6zM859.6 135.0h2.6v2.3h-2.6zM859.6 139.0h2.6v2.3h-2.6zM859.6 149.0h2.6v2.3h-2.6z"/>
<path fill="#007fff" d="M838.4 81.0h2.3v2.3h-2.3zM840.4 81.0h1.9v2.3h-1.9zM830.7 85.0h2.3v2.3h-2.3zM832.6 87.0h2.3v2.3h-2.3zM836.5 87.0h2.3v2.3h-2.3zM840.4 87.0h1.9v2.3h-1.9zM836.5 89.0h2.3v2.3h-2.3zM830.7 91.0h2.3v2.3h-2.3zM828.8 135.0h2.3v2.3h-2.3zM836.5 135.0h2.3v2.3h-2.3zM830.7 137.0h2.3v2.3h-2.3zM826.9 139.0h2.3v2.3h-2.3zM830.7 141.0h2.3v2.3h-2.3z"/>
<path fill="#0065ff" d="M826.9 83.0h2.3v2.3h-2.3zM828.8 85.0h2.3v2.3h-2.3zM834.6 85.0h2.3v2.3h-2.3zM836.5 85.0h2.3v2.3h-2.3zM826.9 87.0h2.3v2.3h-2.3zM834.6 87.0h2.3v2.3h-2.3zM824.9 89.0h2.3v2.3h-2.3zM834.6 89.0h2.3v2.3h-2.3zM838.4 89.0h2.3v2.3h-2.3zM824.9 135.0h2.3v2.3h-2.3zM832.6 135.0h2.3v2.3h-2.3zM840.4 135.0h1.9v2.3h-1.9zM836.5 137.0h2.3v2.3h-2.3zM838.4 143.0h2.3v2.3h-2.3z"/>
<path fill="#00b2ff" d="M828.8 89.0h2.3v2.3h-2.3zM830.7 89.0h2.3v2.3h-2.3zM832.6 89.0h2.3v2.3h-2.3zM828.8 91.0h2.3v2.3h-2.3zM834.6 91.0h2.3v2.3h-2.3zM826.9 93.0h2.3v2.3h-2.3zM838.4 93.0h2.3v2.3h-2.3zM823.0 95.0h2.3v2.3h-2.3zM840.4 131.0h1.9v2.3h-1.9zM840.4 133.0h1.9v2.3h-1.9zM830.7 135.0h2.3v2.3h-2.3z"/>
<path fill="#ffb200" d="M840.4 97.0h1.9v2.3h-1.9zM840.4 105.0h1.9v2.3h-1.9zM828.8 115.0h2.3v2.3h-2.3zM823.0 127.0h2.3v2.3h-2.3zM832.6 127.0h2.3v2.3h-2.3zM836.5 127.0h2.3v2.3h-2.3zM840.4 127.0h1.9v2.3h-1.9z"/>
<path fill="#ff7f00" d="M840.4 99.0h1.9v2.3h-1.9zM826.9 115.0h2.3v2.3h-2.3zM834.6 115.0h2.3v2.3h-2.3zM838.4 115.0h2.3v2.3h-2.3zM840.4 115.0h1.9v2.3h-1.9z"/>
<path fill="#ffcb00" d="M840.4 103.0h1.9v2.3h-1.9zM836.5 115.0h2.3v2.3h-2.3zM824.9 127.0h2.3v2.3h-2.3z"/>
<path fill="#e5ff19" d="M826.9 113.0h2.3v2.3h-2.3zM830.7 113.0h2.3v2.3h-2.3zM836.5 129.0h2.3v2.3h-2.3z"/>
<path fill="#ff0000" d="M824.9 117.0h2.3v2.3h-2.3zM836.5 123.0h2.3v2.3h-2.3zM823.0 125.0h2.3v2.3h-2.3zM834.6 125.0h2.3v2.3h-2.3zM838.4 125.0h2.3v2.3h-2.3z"/>
<path fill="#ff4c00" d="M832.6 117.0h2.3v2.3h-2.3zM828.8 125.0h2.3v2.3h-2.3zM828.8 127.0h2.3v2.3h-2.3z"/>
<path fill="#b20000" d="M823.0 119.0h2.3v2.3h-2.3zM826.9 119.0h2.3v2.3h-2.3zM834.6 119.0h2.3v2.3h-2.3zM830.7 123.0h2.3v2.3h-2.3zM840.4 123.0h1.9v2.3h-1.9zM840.4 125.0h1.9v2.3h-1.9z"/>
<path fill="#990000" d="M838.4 119.0h2.3v2.3h-2.3zM840.4 119.0h1.9v2.3h-1.9zM824.9 121.0h2.3v2.3h-2.3zM834.6 121.0h2.3v2.3h-2.3zM838.4 121.0h2.3v2.3h-2.3z"/>
<path fill="#7f0000" d="M828.8 123.0h2.3v2.3h-2.3z"/>
<rect x="127.00" y="64.70" width="830.00" height="155.10" fill="none" stroke="#000" stroke-width="1.7"/>
<text x="109.60" y="124.90" font-size="16.2" text-anchor="end" fill="#000" stroke="#000" stroke-width="0.3" >1000</text>
<text x="109.60" y="184.30" font-size="16.2" text-anchor="end" fill="#000" stroke="#000" stroke-width="0.3" >100</text>
<text x="59.50" y="142.30" font-size="16.6" text-anchor="middle" fill="#000" stroke="#000" stroke-width="0.3" transform="rotate(-90 59.50 142.30)">Energy/Q [eV/q]</text>
<defs><linearGradient id="jet" x1="0" y1="1" x2="0" y2="0"><stop offset="0" stop-color="#000080"/><stop offset="0.125" stop-color="#0000ff"/><stop offset="0.375" stop-color="#00ffff"/><stop offset="0.5" stop-color="#80ff80"/><stop offset="0.625" stop-color="#ffff00"/><stop offset="0.875" stop-color="#ff0000"/><stop offset="1" stop-color="#800000"/></linearGradient></defs>
<rect x="975.70" y="95.80" width="30.40" height="95.70" fill="url(#jet)"/>
<rect x="975.70" y="95.80" width="30.40" height="95.70" fill="none" stroke="#333" stroke-width="0.8"/>
<line x1="966.70" y1="191.50" x2="975.70" y2="191.50" stroke="#999" stroke-width="1.1"/>
<line x1="1006.10" y1="191.50" x2="1015.10" y2="191.50" stroke="#999" stroke-width="1.1"/>
<line x1="970.70" y1="185.06" x2="975.70" y2="185.06" stroke="#999" stroke-width="1.1"/>
<line x1="1006.10" y1="185.06" x2="1011.10" y2="185.06" stroke="#999" stroke-width="1.1"/>
<line x1="970.70" y1="181.29" x2="975.70" y2="181.29" stroke="#999" stroke-width="1.1"/>
<line x1="1006.10" y1="181.29" x2="1011.10" y2="181.29" stroke="#999" stroke-width="1.1"/>
<line x1="970.70" y1="178.62" x2="975.70" y2="178.62" stroke="#999" stroke-width="1.1"/>
<line x1="1006.10" y1="178.62" x2="1011.10" y2="178.62" stroke="#999" stroke-width="1.1"/>
<line x1="970.70" y1="176.54" x2="975.70" y2="176.54" stroke="#999" stroke-width="1.1"/>
<line x1="1006.10" y1="176.54" x2="1011.10" y2="176.54" stroke="#999" stroke-width="1.1"/>
<line x1="970.70" y1="174.85" x2="975.70" y2="174.85" stroke="#999" stroke-width="1.1"/>
<line x1="1006.10" y1="174.85" x2="1011.10" y2="174.85" stroke="#999" stroke-width="1.1"/>
<line x1="970.70" y1="173.41" x2="975.70" y2="173.41" stroke="#999" stroke-width="1.1"/>
<line x1="1006.10" y1="173.41" x2="1011.10" y2="173.41" stroke="#999" stroke-width="1.1"/>
<line x1="970.70" y1="172.17" x2="975.70" y2="172.17" stroke="#999" stroke-width="1.1"/>
<line x1="1006.10" y1="172.17" x2="1011.10" y2="172.17" stroke="#999" stroke-width="1.1"/>
<line x1="970.70" y1="171.08" x2="975.70" y2="171.08" stroke="#999" stroke-width="1.1"/>
<line x1="1006.10" y1="171.08" x2="1011.10" y2="171.08" stroke="#999" stroke-width="1.1"/>
<line x1="966.70" y1="170.10" x2="975.70" y2="170.10" stroke="#999" stroke-width="1.1"/>
<line x1="1006.10" y1="170.10" x2="1015.10" y2="170.10" stroke="#999" stroke-width="1.1"/>
<line x1="970.70" y1="163.66" x2="975.70" y2="163.66" stroke="#999" stroke-width="1.1"/>
<line x1="1006.10" y1="163.66" x2="1011.10" y2="163.66" stroke="#999" stroke-width="1.1"/>
<line x1="970.70" y1="159.89" x2="975.70" y2="159.89" stroke="#999" stroke-width="1.1"/>
<line x1="1006.10" y1="159.89" x2="1011.10" y2="159.89" stroke="#999" stroke-width="1.1"/>
<line x1="970.70" y1="157.22" x2="975.70" y2="157.22" stroke="#999" stroke-width="1.1"/>
<line x1="1006.10" y1="157.22" x2="1011.10" y2="157.22" stroke="#999" stroke-width="1.1"/>
<line x1="970.70" y1="155.14" x2="975.70" y2="155.14" stroke="#999" stroke-width="1.1"/>
<line x1="1006.10" y1="155.14" x2="1011.10" y2="155.14" stroke="#999" stroke-width="1.1"/>
<line x1="970.70" y1="153.45" x2="975.70" y2="153.45" stroke="#999" stroke-width="1.1"/>
<line x1="1006.10" y1="153.45" x2="1011.10" y2="153.45" stroke="#999" stroke-width="1.1"/>
<line x1="970.70" y1="152.01" x2="975.70" y2="152.01" stroke="#999" stroke-width="1.1"/>
<line x1="1006.10" y1="152.01" x2="1011.10" y2="152.01" stroke="#999" stroke-width="1.1"/>
<line x1="970.70" y1="150.77" x2="975.70" y2="150.77" stroke="#999" stroke-width="1.1"/>
<line x1="1006.10" y1="150.77" x2="1011.10" y2="150.77" stroke="#999" stroke-width="1.1"/>
<line x1="970.70" y1="149.68" x2="975.70" y2="149.68" stroke="#999" stroke-width="1.1"/>
<line x1="1006.10" y1="149.68" x2="1011.10" y2="149.68" stroke="#999" stroke-width="1.1"/>
<line x1="966.70" y1="148.70" x2="975.70" y2="148.70" stroke="#999" stroke-width="1.1"/>
<line x1="1006.10" y1="148.70" x2="1015.10" y2="148.70" stroke="#999" stroke-width="1.1"/>
<line x1="970.70" y1="142.26" x2="975.70" y2="142.26" stroke="#999" stroke-width="1.1"/>
<line x1="1006.10" y1="142.26" x2="1011.10" y2="142.26" stroke="#999" stroke-width="1.1"/>
<line x1="970.70" y1="138.49" x2="975.70" y2="138.49" stroke="#999" stroke-width="1.1"/>
<line x1="1006.10" y1="138.49" x2="1011.10" y2="138.49" stroke="#999" stroke-width="1.1"/>
<line x1="970.70" y1="135.82" x2="975.70" y2="135.82" stroke="#999" stroke-width="1.1"/>
<line x1="1006.10" y1="135.82" x2="1011.10" y2="135.82" stroke="#999" stroke-width="1.1"/>
<line x1="970.70" y1="133.74" x2="975.70" y2="133.74" stroke="#999" stroke-width="1.1"/>
<line x1="1006.10" y1="133.74" x2="1011.10" y2="133.74" stroke="#999" stroke-width="1.1"/>
<line x1="970.70" y1="132.05" x2="975.70" y2="132.05" stroke="#999" stroke-width="1.1"/>
<line x1="1006.10" y1="132.05" x2="1011.10" y2="132.05" stroke="#999" stroke-width="1.1"/>
<line x1="970.70" y1="130.61" x2="975.70" y2="130.61" stroke="#999" stroke-width="1.1"/>
<line x1="1006.10" y1="130.61" x2="1011.10" y2="130.61" stroke="#999" stroke-width="1.1"/>
<line x1="970.70" y1="129.37" x2="975.70" y2="129.37" stroke="#999" stroke-width="1.1"/>
<line x1="1006.10" y1="129.37" x2="1011.10" y2="129.37" stroke="#999" stroke-width="1.1"/>
<line x1="970.70" y1="128.28" x2="975.70" y2="128.28" stroke="#999" stroke-width="1.1"/>
<line x1="1006.10" y1="128.28" x2="1011.10" y2="128.28" stroke="#999" stroke-width="1.1"/>
<line x1="966.70" y1="127.30" x2="975.70" y2="127.30" stroke="#999" stroke-width="1.1"/>
<line x1="1006.10" y1="127.30" x2="1015.10" y2="127.30" stroke="#999" stroke-width="1.1"/>
<line x1="970.70" y1="120.86" x2="975.70" y2="120.86" stroke="#999" stroke-width="1.1"/>
<line x1="1006.10" y1="120.86" x2="1011.10" y2="120.86" stroke="#999" stroke-width="1.1"/>
<line x1="970.70" y1="117.09" x2="975.70" y2="117.09" stroke="#999" stroke-width="1.1"/>
<line x1="1006.10" y1="117.09" x2="1011.10" y2="117.09" stroke="#999" stroke-width="1.1"/>
<line x1="970.70" y1="114.42" x2="975.70" y2="114.42" stroke="#999" stroke-width="1.1"/>
<line x1="1006.10" y1="114.42" x2="1011.10" y2="114.42" stroke="#999" stroke-width="1.1"/>
<line x1="970.70" y1="112.34" x2="975.70" y2="112.34" stroke="#999" stroke-width="1.1"/>
<line x1="1006.10" y1="112.34" x2="1011.10" y2="112.34" stroke="#999" stroke-width="1.1"/>
<line x1="970.70" y1="110.65" x2="975.70" y2="110.65" stroke="#999" stroke-width="1.1"/>
<line x1="1006.10" y1="110.65" x2="1011.10" y2="110.65" stroke="#999" stroke-width="1.1"/>
<line x1="970.70" y1="109.21" x2="975.70" y2="109.21" stroke="#999" stroke-width="1.1"/>
<line x1="1006.10" y1="109.21" x2="1011.10" y2="109.21" stroke="#999" stroke-width="1.1"/>
<line x1="970.70" y1="107.97" x2="975.70" y2="107.97" stroke="#999" stroke-width="1.1"/>
<line x1="1006.10" y1="107.97" x2="1011.10" y2="107.97" stroke="#999" stroke-width="1.1"/>
<line x1="970.70" y1="106.88" x2="975.70" y2="106.88" stroke="#999" stroke-width="1.1"/>
<line x1="1006.10" y1="106.88" x2="1011.10" y2="106.88" stroke="#999" stroke-width="1.1"/>
<line x1="966.70" y1="105.90" x2="975.70" y2="105.90" stroke="#999" stroke-width="1.1"/>
<line x1="1006.10" y1="105.90" x2="1015.10" y2="105.90" stroke="#999" stroke-width="1.1"/>
<line x1="970.70" y1="99.46" x2="975.70" y2="99.46" stroke="#999" stroke-width="1.1"/>
<line x1="1006.10" y1="99.46" x2="1011.10" y2="99.46" stroke="#999" stroke-width="1.1"/>
<line x1="970.70" y1="95.69" x2="975.70" y2="95.69" stroke="#999" stroke-width="1.1"/>
<line x1="1006.10" y1="95.69" x2="1011.10" y2="95.69" stroke="#999" stroke-width="1.1"/>
<line x1="975.70" y1="92.30" x2="975.70" y2="95.80" stroke="#888" stroke-width="1"/>
<line x1="975.70" y1="191.50" x2="975.70" y2="195.00" stroke="#888" stroke-width="1"/>
<line x1="990.90" y1="92.30" x2="990.90" y2="95.80" stroke="#888" stroke-width="1"/>
<line x1="990.90" y1="191.50" x2="990.90" y2="195.00" stroke="#888" stroke-width="1"/>
<line x1="1006.10" y1="92.30" x2="1006.10" y2="95.80" stroke="#888" stroke-width="1"/>
<line x1="1006.10" y1="191.50" x2="1006.10" y2="195.00" stroke="#888" stroke-width="1"/>
<text x="1019.20" y="110.40" font-size="11.8" text-anchor="start" fill="#000" stroke="#000" stroke-width="0.3" >10000.0</text>
<text x="1019.20" y="131.70" font-size="11.8" text-anchor="start" fill="#000" stroke="#000" stroke-width="0.3" >1000.0</text>
<text x="1019.20" y="153.10" font-size="11.8" text-anchor="start" fill="#000" stroke="#000" stroke-width="0.3" >100.0</text>
<text x="1019.20" y="174.90" font-size="11.8" text-anchor="start" fill="#000" stroke="#000" stroke-width="0.3" >10.0</text>
<text x="1019.20" y="192.00" font-size="11.8" text-anchor="start" fill="#000" stroke="#000" stroke-width="0.3" >1.0</text>
<text x="996.60" y="75.80" font-size="15.1" text-anchor="middle" fill="#000" stroke="#000" stroke-width="0.3" >COIN</text>
<text x="995.20" y="87.80" font-size="14.6" text-anchor="middle" fill="#000" stroke="#000" stroke-width="0.3" >[Hz]</text>
<line x1="114.70" y1="311.60" x2="127.00" y2="311.60" stroke="#000" stroke-width="1.5"/>
<line x1="957.00" y1="311.60" x2="969.30" y2="311.60" stroke="#000" stroke-width="1.5"/>
<line x1="121.00" y1="301.25" x2="127.00" y2="301.25" stroke="#000" stroke-width="1.5"/>
<line x1="957.00" y1="301.25" x2="963.00" y2="301.25" stroke="#000" stroke-width="1.5"/>
<line x1="114.70" y1="290.90" x2="127.00" y2="290.90" stroke="#000" stroke-width="1.5"/>
<line x1="957.00" y1="290.90" x2="969.30" y2="290.90" stroke="#000" stroke-width="1.5"/>
<line x1="121.00" y1="280.55" x2="127.00" y2="280.55" stroke="#000" stroke-width="1.5"/>
<line x1="957.00" y1="280.55" x2="963.00" y2="280.55" stroke="#000" stroke-width="1.5"/>
<line x1="114.70" y1="270.20" x2="127.00" y2="270.20" stroke="#000" stroke-width="1.5"/>
<line x1="957.00" y1="270.20" x2="969.30" y2="270.20" stroke="#000" stroke-width="1.5"/>
<line x1="121.00" y1="259.85" x2="127.00" y2="259.85" stroke="#000" stroke-width="1.5"/>
<line x1="957.00" y1="259.85" x2="963.00" y2="259.85" stroke="#000" stroke-width="1.5"/>
<line x1="114.70" y1="249.50" x2="127.00" y2="249.50" stroke="#000" stroke-width="1.5"/>
<line x1="957.00" y1="249.50" x2="969.30" y2="249.50" stroke="#000" stroke-width="1.5"/>
<line x1="121.00" y1="239.15" x2="127.00" y2="239.15" stroke="#000" stroke-width="1.5"/>
<line x1="957.00" y1="239.15" x2="963.00" y2="239.15" stroke="#000" stroke-width="1.5"/>
<line x1="114.70" y1="228.80" x2="127.00" y2="228.80" stroke="#000" stroke-width="1.5"/>
<line x1="957.00" y1="228.80" x2="969.30" y2="228.80" stroke="#000" stroke-width="1.5"/>
<line x1="160.20" y1="226.80" x2="160.20" y2="228.80" stroke="#000" stroke-width="1.9"/>
<line x1="160.20" y1="317.30" x2="160.20" y2="319.30" stroke="#000" stroke-width="1.9"/>
<line x1="201.70" y1="224.80" x2="201.70" y2="228.80" stroke="#000" stroke-width="1.9"/>
<line x1="201.70" y1="317.30" x2="201.70" y2="321.30" stroke="#000" stroke-width="1.9"/>
<line x1="243.20" y1="226.80" x2="243.20" y2="228.80" stroke="#000" stroke-width="1.9"/>
<line x1="243.20" y1="317.30" x2="243.20" y2="319.30" stroke="#000" stroke-width="1.9"/>
<line x1="284.70" y1="224.80" x2="284.70" y2="228.80" stroke="#000" stroke-width="1.9"/>
<line x1="284.70" y1="317.30" x2="284.70" y2="321.30" stroke="#000" stroke-width="1.9"/>
<line x1="326.20" y1="226.80" x2="326.20" y2="228.80" stroke="#000" stroke-width="1.9"/>
<line x1="326.20" y1="317.30" x2="326.20" y2="319.30" stroke="#000" stroke-width="1.9"/>
<line x1="367.70" y1="224.80" x2="367.70" y2="228.80" stroke="#000" stroke-width="1.9"/>
<line x1="367.70" y1="317.30" x2="367.70" y2="321.30" stroke="#000" stroke-width="1.9"/>
<line x1="409.20" y1="226.80" x2="409.20" y2="228.80" stroke="#000" stroke-width="1.9"/>
<line x1="409.20" y1="317.30" x2="409.20" y2="319.30" stroke="#000" stroke-width="1.9"/>
<line x1="450.70" y1="224.80" x2="450.70" y2="228.80" stroke="#000" stroke-width="1.9"/>
<line x1="450.70" y1="317.30" x2="450.70" y2="321.30" stroke="#000" stroke-width="1.9"/>
<line x1="492.20" y1="226.80" x2="492.20" y2="228.80" stroke="#000" stroke-width="1.9"/>
<line x1="492.20" y1="317.30" x2="492.20" y2="319.30" stroke="#000" stroke-width="1.9"/>
<line x1="533.70" y1="224.80" x2="533.70" y2="228.80" stroke="#000" stroke-width="1.9"/>
<line x1="533.70" y1="317.30" x2="533.70" y2="321.30" stroke="#000" stroke-width="1.9"/>
<line x1="575.20" y1="226.80" x2="575.20" y2="228.80" stroke="#000" stroke-width="1.9"/>
<line x1="575.20" y1="317.30" x2="575.20" y2="319.30" stroke="#000" stroke-width="1.9"/>
<line x1="616.70" y1="224.80" x2="616.70" y2="228.80" stroke="#000" stroke-width="1.9"/>
<line x1="616.70" y1="317.30" x2="616.70" y2="321.30" stroke="#000" stroke-width="1.9"/>
<line x1="658.20" y1="226.80" x2="658.20" y2="228.80" stroke="#000" stroke-width="1.9"/>
<line x1="658.20" y1="317.30" x2="658.20" y2="319.30" stroke="#000" stroke-width="1.9"/>
<line x1="699.70" y1="224.80" x2="699.70" y2="228.80" stroke="#000" stroke-width="1.9"/>
<line x1="699.70" y1="317.30" x2="699.70" y2="321.30" stroke="#000" stroke-width="1.9"/>
<line x1="741.20" y1="226.80" x2="741.20" y2="228.80" stroke="#000" stroke-width="1.9"/>
<line x1="741.20" y1="317.30" x2="741.20" y2="319.30" stroke="#000" stroke-width="1.9"/>
<line x1="782.70" y1="224.80" x2="782.70" y2="228.80" stroke="#000" stroke-width="1.9"/>
<line x1="782.70" y1="317.30" x2="782.70" y2="321.30" stroke="#000" stroke-width="1.9"/>
<line x1="824.20" y1="226.80" x2="824.20" y2="228.80" stroke="#000" stroke-width="1.9"/>
<line x1="824.20" y1="317.30" x2="824.20" y2="319.30" stroke="#000" stroke-width="1.9"/>
<line x1="865.70" y1="224.80" x2="865.70" y2="228.80" stroke="#000" stroke-width="1.9"/>
<line x1="865.70" y1="317.30" x2="865.70" y2="321.30" stroke="#000" stroke-width="1.9"/>
<line x1="907.20" y1="226.80" x2="907.20" y2="228.80" stroke="#000" stroke-width="1.9"/>
<line x1="907.20" y1="317.30" x2="907.20" y2="319.30" stroke="#000" stroke-width="1.9"/>
<line x1="948.70" y1="224.80" x2="948.70" y2="228.80" stroke="#000" stroke-width="1.9"/>
<line x1="948.70" y1="317.30" x2="948.70" y2="321.30" stroke="#000" stroke-width="1.9"/>
<rect x="127.00" y="228.80" width="830.00" height="88.50" fill="none" stroke="#000" stroke-width="1.6"/>
<text x="104.30" y="239.00" font-size="16.2" text-anchor="end" fill="#000" stroke="#000" stroke-width="0.3" >10</text>
<text x="105.40" y="232.50" font-size="9.6" text-anchor="start" fill="#000" stroke="#000" stroke-width="0.3" >8</text>
<text x="104.30" y="255.50" font-size="16.2" text-anchor="end" fill="#000" stroke="#000" stroke-width="0.3" >10</text>
<text x="105.40" y="249.00" font-size="9.6" text-anchor="start" fill="#000" stroke="#000" stroke-width="0.3" >6</text>
<text x="104.30" y="275.70" font-size="16.2" text-anchor="end" fill="#000" stroke="#000" stroke-width="0.3" >10</text>
<text x="105.40" y="269.20" font-size="9.6" text-anchor="start" fill="#000" stroke="#000" stroke-width="0.3" >4</text>
<text x="104.30" y="296.80" font-size="16.2" text-anchor="end" fill="#000" stroke="#000" stroke-width="0.3" >10</text>
<text x="105.40" y="290.30" font-size="9.6" text-anchor="start" fill="#000" stroke="#000" stroke-width="0.3" >2</text>
<text x="104.30" y="317.30" font-size="16.2" text-anchor="end" fill="#000" stroke="#000" stroke-width="0.3" >10</text>
<text x="105.40" y="310.80" font-size="9.6" text-anchor="start" fill="#000" stroke="#000" stroke-width="0.3" >0</text>
<text x="45.30" y="276.40" font-size="16.6" text-anchor="middle" fill="#000" stroke="#000" stroke-width="0.3" transform="rotate(-90 45.30 276.40)">Coin Rate</text>
<text x="59.40" y="272.90" font-size="16.6" text-anchor="middle" fill="#000" stroke="#000" stroke-width="0.3" transform="rotate(-90 59.40 272.90)">Sum Over Energy</text>
<text x="72.60" y="272.90" font-size="16.6" text-anchor="middle" fill="#000" stroke="#000" stroke-width="0.3" transform="rotate(-90 72.60 272.90)">[Hz]</text>
<circle cx="781.33" cy="263.70" r="1.3" fill="#000"/>
<circle cx="782.42" cy="262.77" r="1.3" fill="#000"/>
<circle cx="782.21" cy="262.37" r="1.3" fill="#000"/>
<circle cx="782.39" cy="260.77" r="1.3" fill="#000"/>
<circle cx="783.21" cy="259.90" r="1.3" fill="#000"/>
<circle cx="783.28" cy="258.99" r="1.3" fill="#000"/>
<circle cx="784.02" cy="258.28" r="1.3" fill="#000"/>
<circle cx="784.11" cy="256.94" r="1.3" fill="#000"/>
<circle cx="785.45" cy="256.76" r="1.3" fill="#000"/>
<circle cx="782.50" cy="260.50" r="1.2" fill="#000"/>
<circle cx="784.00" cy="260.00" r="1.1" fill="#000"/>
<circle cx="822.60" cy="265.94" r="1.5" fill="#000"/>
<circle cx="823.10" cy="267.31" r="1.5" fill="#000"/>
<circle cx="823.60" cy="266.03" r="1.5" fill="#000"/>
<circle cx="824.10" cy="265.98" r="1.5" fill="#000"/>
<circle cx="824.60" cy="265.83" r="1.5" fill="#000"/>
<circle cx="825.10" cy="266.01" r="1.5" fill="#000"/>
<circle cx="825.60" cy="266.86" r="1.5" fill="#000"/>
<circle cx="826.10" cy="266.52" r="1.5" fill="#000"/>
<circle cx="826.60" cy="265.93" r="1.5" fill="#000"/>
<circle cx="827.10" cy="265.49" r="1.5" fill="#000"/>
<circle cx="827.60" cy="265.61" r="1.5" fill="#000"/>
<circle cx="828.10" cy="265.39" r="1.5" fill="#000"/>
<circle cx="828.60" cy="265.88" r="1.5" fill="#000"/>
<circle cx="829.10" cy="264.75" r="1.5" fill="#000"/>
<circle cx="829.60" cy="265.04" r="1.5" fill="#000"/>
<circle cx="830.10" cy="264.84" r="1.5" fill="#000"/>
<circle cx="830.60" cy="264.73" r="1.5" fill="#000"/>
<circle cx="831.10" cy="264.80" r="1.5" fill="#000"/>
<circle cx="831.60" cy="264.63" r="1.5" fill="#000"/>
<circle cx="832.10" cy="265.29" r="1.5" fill="#000"/>
<circle cx="832.60" cy="264.15" r="1.5" fill="#000"/>
<circle cx="833.10" cy="265.17" r="1.5" fill="#000"/>
<circle cx="833.60" cy="263.72" r="1.5" fill="#000"/>
<circle cx="834.10" cy="263.46" r="1.5" fill="#000"/>
<circle cx="834.60" cy="263.73" r="1.5" fill="#000"/>
<circle cx="835.10" cy="263.76" r="1.5" fill="#000"/>
<circle cx="835.60" cy="263.56" r="1.5" fill="#000"/>
<circle cx="836.10" cy="264.14" r="1.5" fill="#000"/>
<circle cx="836.60" cy="263.89" r="1.5" fill="#000"/>
<circle cx="837.10" cy="263.30" r="1.5" fill="#000"/>
<circle cx="837.60" cy="262.58" r="1.5" fill="#000"/>
<circle cx="838.10" cy="262.61" r="1.5" fill="#000"/>
<circle cx="838.60" cy="263.53" r="1.5" fill="#000"/>
<circle cx="839.10" cy="262.55" r="1.5" fill="#000"/>
<circle cx="840.20" cy="257.60" r="1.3" fill="#000"/>
<circle cx="841.40" cy="258.40" r="1.3" fill="#000"/>
<circle cx="838.00" cy="264.00" r="1.3" fill="#000"/>
<circle cx="837.80" cy="266.50" r="1.3" fill="#000"/>
<circle cx="837.60" cy="268.60" r="1.3" fill="#000"/>
<circle cx="837.80" cy="270.50" r="1.3" fill="#000"/>
<circle cx="837.20" cy="273.20" r="1.3" fill="#000"/>
<circle cx="836.20" cy="262.00" r="1.3" fill="#000"/>
<circle cx="834.00" cy="262.60" r="1.3" fill="#000"/>
<circle cx="828.00" cy="263.80" r="1.3" fill="#000"/>
<ellipse cx="860.9" cy="290.8" rx="2.5" ry="3.4" fill="#000"/>
<rect x="127.00" y="327.50" width="830.00" height="88.10" fill="#666666"/>
<rect x="127.00" y="344.00" width="830.00" height="5.90" fill="#fffac8"/>
<rect x="127.00" y="365.90" width="830.00" height="5.90" fill="#fffac8"/>
<rect x="127.00" y="388.00" width="830.00" height="6.00" fill="#fffac8"/>
<rect x="719.60" y="344.00" width="1.30" height="5.90" fill="#7fe8e0"/>
<rect x="781.80" y="344.00" width="3.40" height="5.90" fill="#00e4ff"/>
<rect x="823.00" y="344.00" width="19.20" height="5.90" fill="#00e4ff"/>
<rect x="859.60" y="344.00" width="2.60" height="5.90" fill="#00e4ff"/>
<rect x="719.60" y="388.00" width="1.30" height="6.00" fill="#7fe8e0"/>
<rect x="781.80" y="388.00" width="3.40" height="6.00" fill="#00e4ff"/>
<rect x="823.00" y="388.00" width="19.20" height="6.00" fill="#00e4ff"/>
<rect x="859.60" y="388.00" width="2.60" height="6.00" fill="#00e4ff"/>
<rect x="719.60" y="365.90" width="1.30" height="5.90" fill="#f06040"/>
<text x="968.10" y="332.20" font-size="11.6" text-anchor="start" fill="#000" stroke="#000" stroke-width="0.3" >Optical</text>
<text x="979.30" y="340.40" font-size="11.0" text-anchor="start" fill="#1ed8f8" stroke="#1ed8f8" stroke-width="0.3" >ESA</text>
<text x="979.30" y="348.90" font-size="11.0" text-anchor="start" fill="#f01010" stroke="#f01010" stroke-width="0.3" >RPA and ESA</text>
<text x="979.30" y="357.40" font-size="11.0" text-anchor="start" fill="#2424ff" stroke="#2424ff" stroke-width="0.3" >DFL and ESA</text>
<text x="968.10" y="371.70" font-size="11.6" text-anchor="start" fill="#000" stroke="#000" stroke-width="0.3" >Calibration</text>
<text x="979.30" y="380.20" font-size="11.0" text-anchor="start" fill="#f01010" stroke="#f01010" stroke-width="0.3" >Gain</text>
<text x="979.30" y="388.50" font-size="11.0" text-anchor="start" fill="#1ed8f8" stroke="#1ed8f8" stroke-width="0.3" >Angle</text>
<text x="968.10" y="401.10" font-size="11.6" text-anchor="start" fill="#000" stroke="#000" stroke-width="0.3" >Mode</text>
<text x="979.30" y="409.50" font-size="11.0" text-anchor="start" fill="#1ed8f8" stroke="#1ed8f8" stroke-width="0.3" >HVSCI</text>
<text x="979.30" y="418.00" font-size="11.0" text-anchor="start" fill="#f01010" stroke="#f01010" stroke-width="0.3" >HVENG</text>
<line x1="114.70" y1="445.40" x2="127.00" y2="445.40" stroke="#000" stroke-width="1.5"/>
<line x1="114.70" y1="470.10" x2="127.00" y2="470.10" stroke="#000" stroke-width="1.5"/>
<line x1="114.70" y1="494.80" x2="127.00" y2="494.80" stroke="#000" stroke-width="1.5"/>
<line x1="121.00" y1="433.05" x2="127.00" y2="433.05" stroke="#000" stroke-width="1.5"/>
<line x1="121.00" y1="457.75" x2="127.00" y2="457.75" stroke="#000" stroke-width="1.5"/>
<line x1="121.00" y1="482.45" x2="127.00" y2="482.45" stroke="#000" stroke-width="1.5"/>
<line x1="121.00" y1="507.15" x2="127.00" y2="507.15" stroke="#000" stroke-width="1.5"/>
<line x1="160.20" y1="423.90" x2="160.20" y2="425.90" stroke="#000" stroke-width="1.9"/>
<line x1="160.20" y1="514.30" x2="160.20" y2="516.30" stroke="#000" stroke-width="1.9"/>
<line x1="201.70" y1="421.90" x2="201.70" y2="425.90" stroke="#000" stroke-width="1.9"/>
<line x1="201.70" y1="514.30" x2="201.70" y2="518.30" stroke="#000" stroke-width="1.9"/>
<line x1="243.20" y1="423.90" x2="243.20" y2="425.90" stroke="#000" stroke-width="1.9"/>
<line x1="243.20" y1="514.30" x2="243.20" y2="516.30" stroke="#000" stroke-width="1.9"/>
<line x1="284.70" y1="421.90" x2="284.70" y2="425.90" stroke="#000" stroke-width="1.9"/>
<line x1="284.70" y1="514.30" x2="284.70" y2="518.30" stroke="#000" stroke-width="1.9"/>
<line x1="326.20" y1="423.90" x2="326.20" y2="425.90" stroke="#000" stroke-width="1.9"/>
<line x1="326.20" y1="514.30" x2="326.20" y2="516.30" stroke="#000" stroke-width="1.9"/>
<line x1="367.70" y1="421.90" x2="367.70" y2="425.90" stroke="#000" stroke-width="1.9"/>
<line x1="367.70" y1="514.30" x2="367.70" y2="518.30" stroke="#000" stroke-width="1.9"/>
<line x1="409.20" y1="423.90" x2="409.20" y2="425.90" stroke="#000" stroke-width="1.9"/>
<line x1="409.20" y1="514.30" x2="409.20" y2="516.30" stroke="#000" stroke-width="1.9"/>
<line x1="450.70" y1="421.90" x2="450.70" y2="425.90" stroke="#000" stroke-width="1.9"/>
<line x1="450.70" y1="514.30" x2="450.70" y2="518.30" stroke="#000" stroke-width="1.9"/>
<line x1="492.20" y1="423.90" x2="492.20" y2="425.90" stroke="#000" stroke-width="1.9"/>
<line x1="492.20" y1="514.30" x2="492.20" y2="516.30" stroke="#000" stroke-width="1.9"/>
<line x1="533.70" y1="421.90" x2="533.70" y2="425.90" stroke="#000" stroke-width="1.9"/>
<line x1="533.70" y1="514.30" x2="533.70" y2="518.30" stroke="#000" stroke-width="1.9"/>
<line x1="575.20" y1="423.90" x2="575.20" y2="425.90" stroke="#000" stroke-width="1.9"/>
<line x1="575.20" y1="514.30" x2="575.20" y2="516.30" stroke="#000" stroke-width="1.9"/>
<line x1="616.70" y1="421.90" x2="616.70" y2="425.90" stroke="#000" stroke-width="1.9"/>
<line x1="616.70" y1="514.30" x2="616.70" y2="518.30" stroke="#000" stroke-width="1.9"/>
<line x1="658.20" y1="423.90" x2="658.20" y2="425.90" stroke="#000" stroke-width="1.9"/>
<line x1="658.20" y1="514.30" x2="658.20" y2="516.30" stroke="#000" stroke-width="1.9"/>
<line x1="699.70" y1="421.90" x2="699.70" y2="425.90" stroke="#000" stroke-width="1.9"/>
<line x1="699.70" y1="514.30" x2="699.70" y2="518.30" stroke="#000" stroke-width="1.9"/>
<line x1="741.20" y1="423.90" x2="741.20" y2="425.90" stroke="#000" stroke-width="1.9"/>
<line x1="741.20" y1="514.30" x2="741.20" y2="516.30" stroke="#000" stroke-width="1.9"/>
<line x1="782.70" y1="421.90" x2="782.70" y2="425.90" stroke="#000" stroke-width="1.9"/>
<line x1="782.70" y1="514.30" x2="782.70" y2="518.30" stroke="#000" stroke-width="1.9"/>
<line x1="824.20" y1="423.90" x2="824.20" y2="425.90" stroke="#000" stroke-width="1.9"/>
<line x1="824.20" y1="514.30" x2="824.20" y2="516.30" stroke="#000" stroke-width="1.9"/>
<line x1="865.70" y1="421.90" x2="865.70" y2="425.90" stroke="#000" stroke-width="1.9"/>
<line x1="865.70" y1="514.30" x2="865.70" y2="518.30" stroke="#000" stroke-width="1.9"/>
<line x1="907.20" y1="423.90" x2="907.20" y2="425.90" stroke="#000" stroke-width="1.9"/>
<line x1="907.20" y1="514.30" x2="907.20" y2="516.30" stroke="#000" stroke-width="1.9"/>
<line x1="948.70" y1="421.90" x2="948.70" y2="425.90" stroke="#000" stroke-width="1.9"/>
<line x1="948.70" y1="514.30" x2="948.70" y2="518.30" stroke="#000" stroke-width="1.9"/>
<rect x="127.00" y="425.90" width="830.00" height="88.40" fill="none" stroke="#000" stroke-width="1.6"/>
<text x="110.20" y="451.20" font-size="16.2" text-anchor="end" fill="#000" stroke="#000" stroke-width="0.3" >50</text>
<text x="110.20" y="475.90" font-size="16.2" text-anchor="end" fill="#000" stroke="#000" stroke-width="0.3" >0</text>
<text x="110.20" y="500.60" font-size="16.2" text-anchor="end" fill="#000" stroke="#000" stroke-width="0.3" >-50</text>
<text x="59.00" y="470.10" font-size="16.6" text-anchor="middle" fill="#000" stroke="#000" stroke-width="0.3" transform="rotate(-90 59.00 470.10)">Sun Theta</text>
<text x="72.50" y="470.10" font-size="16.6" text-anchor="middle" fill="#000" stroke="#000" stroke-width="0.3" transform="rotate(-90 72.50 470.10)">Angle [deg]</text>
<line x1="957.00" y1="514.10" x2="963.30" y2="514.10" stroke="#ff0000" stroke-width="1.5"/>
<line x1="957.00" y1="505.30" x2="969.30" y2="505.30" stroke="#ff0000" stroke-width="1.5"/>
<line x1="957.00" y1="496.50" x2="963.30" y2="496.50" stroke="#ff0000" stroke-width="1.5"/>
<line x1="957.00" y1="487.70" x2="969.30" y2="487.70" stroke="#ff0000" stroke-width="1.5"/>
<line x1="957.00" y1="478.90" x2="963.30" y2="478.90" stroke="#ff0000" stroke-width="1.5"/>
<line x1="957.00" y1="470.10" x2="969.30" y2="470.10" stroke="#ff0000" stroke-width="1.5"/>
<line x1="957.00" y1="461.30" x2="963.30" y2="461.30" stroke="#ff0000" stroke-width="1.5"/>
<line x1="957.00" y1="452.50" x2="969.30" y2="452.50" stroke="#ff0000" stroke-width="1.5"/>
<line x1="957.00" y1="443.70" x2="963.30" y2="443.70" stroke="#ff0000" stroke-width="1.5"/>
<line x1="957.00" y1="434.90" x2="969.30" y2="434.90" stroke="#ff0000" stroke-width="1.5"/>
<line x1="957.00" y1="426.10" x2="963.30" y2="426.10" stroke="#ff0000" stroke-width="1.5"/>
<line x1="957.00" y1="425.90" x2="957.00" y2="514.30" stroke="#ff0000" stroke-width="1.8"/>
<text x="974.30" y="440.70" font-size="16.2" text-anchor="start" fill="#ff0000" stroke="#ff0000" stroke-width="0.3" >8</text>
<text x="974.30" y="458.30" font-size="16.2" text-anchor="start" fill="#ff0000" stroke="#ff0000" stroke-width="0.3" >4</text>
<text x="974.30" y="475.90" font-size="16.2" text-anchor="start" fill="#ff0000" stroke="#ff0000" stroke-width="0.3" >0</text>
<text x="974.30" y="493.50" font-size="16.2" text-anchor="start" fill="#ff0000" stroke="#ff0000" stroke-width="0.3" >-4</text>
<text x="974.30" y="511.10" font-size="16.2" text-anchor="start" fill="#ff0000" stroke="#ff0000" stroke-width="0.3" >-8</text>
<text x="1003.30" y="470.10" font-size="16.6" text-anchor="middle" fill="#ff0000" stroke="#ff0000" stroke-width="0.3" transform="rotate(-90 1003.30 470.10)">Sun Theta</text>
<text x="1016.80" y="470.10" font-size="16.6" text-anchor="middle" fill="#ff0000" stroke="#ff0000" stroke-width="0.3" transform="rotate(-90 1016.80 470.10)">Angle [deg]</text>
<rect x="718.4" y="446.30" width="3.2" height="47.6" rx="1.6" fill="#ff0000"/>
<rect x="780.7" y="447.60" width="5.7" height="45" rx="1.2" fill="#ff0000"/>
<rect x="821.6" y="448.00" width="21.9" height="44.2" rx="1" fill="#ff0000"/>
<polyline points="837.32,425.90 837.92,427.40 837.44,428.90 838.01,430.40 838.11,431.90 837.78,433.40 838.57,434.90 837.34,436.40 837.42,437.90 837.36,439.40 837.55,440.90 837.87,442.40 836.96,443.90 837.92,445.40 837.61,446.90 837.77,448.40 838.02,449.90 837.77,451.40 838.10,452.90 836.86,454.40 837.22,455.90 838.16,457.40 838.02,458.90 836.92,460.40 837.70,461.90 837.30,463.40 837.18,464.90 837.47,466.40 837.13,467.90 837.72,469.40 837.57,470.90 837.73,472.40 837.69,473.90 837.82,475.40 837.22,476.90 837.87,478.40 837.59,479.90 837.48,481.40 837.42,482.90 837.40,484.40 837.66,485.90 837.91,487.40 837.85,488.90 837.69,490.40 837.44,491.90 837.51,493.40 838.31,494.90 837.62,496.40 837.52,497.90 837.55,499.40 837.52,500.90 837.72,502.40 837.38,503.90 837.80,505.40 837.79,506.90 837.64,508.40 838.08,509.90 838.00,511.40 837.90,512.90" fill="none" stroke="#ff0000" stroke-width="2.7"/>
<rect x="840.60" y="468.60" width="2.80" height="3.00" fill="#000"/>
<line x1="781.50" y1="470.10" x2="785.50" y2="470.10" stroke="#000" stroke-width="0.8"/>
<ellipse cx="860.7" cy="463.8" rx="2.6" ry="2.4" fill="#000"/>
<line x1="114.70" y1="544.10" x2="127.00" y2="544.10" stroke="#000" stroke-width="1.5"/>
<line x1="114.70" y1="568.75" x2="127.00" y2="568.75" stroke="#000" stroke-width="1.5"/>
<line x1="114.70" y1="593.40" x2="127.00" y2="593.40" stroke="#000" stroke-width="1.5"/>
<line x1="121.00" y1="531.77" x2="127.00" y2="531.77" stroke="#000" stroke-width="1.5"/>
<line x1="121.00" y1="556.42" x2="127.00" y2="556.42" stroke="#000" stroke-width="1.5"/>
<line x1="121.00" y1="581.08" x2="127.00" y2="581.08" stroke="#000" stroke-width="1.5"/>
<line x1="121.00" y1="605.73" x2="127.00" y2="605.73" stroke="#000" stroke-width="1.5"/>
<line x1="160.20" y1="522.50" x2="160.20" y2="524.50" stroke="#000" stroke-width="1.9"/>
<line x1="160.20" y1="613.00" x2="160.20" y2="615.00" stroke="#000" stroke-width="1.9"/>
<line x1="201.70" y1="520.50" x2="201.70" y2="524.50" stroke="#000" stroke-width="1.9"/>
<line x1="201.70" y1="613.00" x2="201.70" y2="617.00" stroke="#000" stroke-width="1.9"/>
<line x1="243.20" y1="522.50" x2="243.20" y2="524.50" stroke="#000" stroke-width="1.9"/>
<line x1="243.20" y1="613.00" x2="243.20" y2="615.00" stroke="#000" stroke-width="1.9"/>
<line x1="284.70" y1="520.50" x2="284.70" y2="524.50" stroke="#000" stroke-width="1.9"/>
<line x1="284.70" y1="613.00" x2="284.70" y2="617.00" stroke="#000" stroke-width="1.9"/>
<line x1="326.20" y1="522.50" x2="326.20" y2="524.50" stroke="#000" stroke-width="1.9"/>
<line x1="326.20" y1="613.00" x2="326.20" y2="615.00" stroke="#000" stroke-width="1.9"/>
<line x1="367.70" y1="520.50" x2="367.70" y2="524.50" stroke="#000" stroke-width="1.9"/>
<line x1="367.70" y1="613.00" x2="367.70" y2="617.00" stroke="#000" stroke-width="1.9"/>
<line x1="409.20" y1="522.50" x2="409.20" y2="524.50" stroke="#000" stroke-width="1.9"/>
<line x1="409.20" y1="613.00" x2="409.20" y2="615.00" stroke="#000" stroke-width="1.9"/>
<line x1="450.70" y1="520.50" x2="450.70" y2="524.50" stroke="#000" stroke-width="1.9"/>
<line x1="450.70" y1="613.00" x2="450.70" y2="617.00" stroke="#000" stroke-width="1.9"/>
<line x1="492.20" y1="522.50" x2="492.20" y2="524.50" stroke="#000" stroke-width="1.9"/>
<line x1="492.20" y1="613.00" x2="492.20" y2="615.00" stroke="#000" stroke-width="1.9"/>
<line x1="533.70" y1="520.50" x2="533.70" y2="524.50" stroke="#000" stroke-width="1.9"/>
<line x1="533.70" y1="613.00" x2="533.70" y2="617.00" stroke="#000" stroke-width="1.9"/>
<line x1="575.20" y1="522.50" x2="575.20" y2="524.50" stroke="#000" stroke-width="1.9"/>
<line x1="575.20" y1="613.00" x2="575.20" y2="615.00" stroke="#000" stroke-width="1.9"/>
<line x1="616.70" y1="520.50" x2="616.70" y2="524.50" stroke="#000" stroke-width="1.9"/>
<line x1="616.70" y1="613.00" x2="616.70" y2="617.00" stroke="#000" stroke-width="1.9"/>
<line x1="658.20" y1="522.50" x2="658.20" y2="524.50" stroke="#000" stroke-width="1.9"/>
<line x1="658.20" y1="613.00" x2="658.20" y2="615.00" stroke="#000" stroke-width="1.9"/>
<line x1="699.70" y1="520.50" x2="699.70" y2="524.50" stroke="#000" stroke-width="1.9"/>
<line x1="699.70" y1="613.00" x2="699.70" y2="617.00" stroke="#000" stroke-width="1.9"/>
<line x1="741.20" y1="522.50" x2="741.20" y2="524.50" stroke="#000" stroke-width="1.9"/>
<line x1="741.20" y1="613.00" x2="741.20" y2="615.00" stroke="#000" stroke-width="1.9"/>
<line x1="782.70" y1="520.50" x2="782.70" y2="524.50" stroke="#000" stroke-width="1.9"/>
<line x1="782.70" y1="613.00" x2="782.70" y2="617.00" stroke="#000" stroke-width="1.9"/>
<line x1="824.20" y1="522.50" x2="824.20" y2="524.50" stroke="#000" stroke-width="1.9"/>
<line x1="824.20" y1="613.00" x2="824.20" y2="615.00" stroke="#000" stroke-width="1.9"/>
<line x1="865.70" y1="520.50" x2="865.70" y2="524.50" stroke="#000" stroke-width="1.9"/>
<line x1="865.70" y1="613.00" x2="865.70" y2="617.00" stroke="#000" stroke-width="1.9"/>
<line x1="907.20" y1="522.50" x2="907.20" y2="524.50" stroke="#000" stroke-width="1.9"/>
<line x1="907.20" y1="613.00" x2="907.20" y2="615.00" stroke="#000" stroke-width="1.9"/>
<line x1="948.70" y1="520.50" x2="948.70" y2="524.50" stroke="#000" stroke-width="1.9"/>
<line x1="948.70" y1="613.00" x2="948.70" y2="617.00" stroke="#000" stroke-width="1.9"/>
<rect x="127.00" y="524.50" width="830.00" height="88.50" fill="none" stroke="#000" stroke-width="1.6"/>
<text x="110.20" y="549.90" font-size="16.2" text-anchor="end" fill="#000" stroke="#000" stroke-width="0.3" >100</text>
<text x="110.20" y="574.55" font-size="16.2" text-anchor="end" fill="#000" stroke="#000" stroke-width="0.3" >0</text>
<text x="110.20" y="599.20" font-size="16.2" text-anchor="end" fill="#000" stroke="#000" stroke-width="0.3" >-100</text>
<text x="50.50" y="568.75" font-size="16.6" text-anchor="middle" fill="#000" stroke="#000" stroke-width="0.3" transform="rotate(-90 50.50 568.75)">Sun Phi</text>
<text x="63.80" y="568.75" font-size="16.6" text-anchor="middle" fill="#000" stroke="#000" stroke-width="0.3" transform="rotate(-90 63.80 568.75)">Angle [deg]</text>
<line x1="957.00" y1="612.75" x2="963.30" y2="612.75" stroke="#ff0000" stroke-width="1.5"/>
<line x1="957.00" y1="603.95" x2="969.30" y2="603.95" stroke="#ff0000" stroke-width="1.5"/>
<line x1="957.00" y1="595.15" x2="963.30" y2="595.15" stroke="#ff0000" stroke-width="1.5"/>
<line x1="957.00" y1="586.35" x2="969.30" y2="586.35" stroke="#ff0000" stroke-width="1.5"/>
<line x1="957.00" y1="577.55" x2="963.30" y2="577.55" stroke="#ff0000" stroke-width="1.5"/>
<line x1="957.00" y1="568.75" x2="969.30" y2="568.75" stroke="#ff0000" stroke-width="1.5"/>
<line x1="957.00" y1="559.95" x2="963.30" y2="559.95" stroke="#ff0000" stroke-width="1.5"/>
<line x1="957.00" y1="551.15" x2="969.30" y2="551.15" stroke="#ff0000" stroke-width="1.5"/>
<line x1="957.00" y1="542.35" x2="963.30" y2="542.35" stroke="#ff0000" stroke-width="1.5"/>
<line x1="957.00" y1="533.55" x2="969.30" y2="533.55" stroke="#ff0000" stroke-width="1.5"/>
<line x1="957.00" y1="524.75" x2="963.30" y2="524.75" stroke="#ff0000" stroke-width="1.5"/>
<line x1="957.00" y1="524.50" x2="957.00" y2="613.00" stroke="#ff0000" stroke-width="1.8"/>
<text x="974.30" y="539.35" font-size="16.2" text-anchor="start" fill="#ff0000" stroke="#ff0000" stroke-width="0.3" >8</text>
<text x="974.30" y="556.95" font-size="16.2" text-anchor="start" fill="#ff0000" stroke="#ff0000" stroke-width="0.3" >4</text>
<text x="974.30" y="574.55" font-size="16.2" text-anchor="start" fill="#ff0000" stroke="#ff0000" stroke-width="0.3" >0</text>
<text x="974.30" y="592.15" font-size="16.2" text-anchor="start" fill="#ff0000" stroke="#ff0000" stroke-width="0.3" >-4</text>
<text x="974.30" y="609.75" font-size="16.2" text-anchor="start" fill="#ff0000" stroke="#ff0000" stroke-width="0.3" >-8</text>
<text x="1003.30" y="568.75" font-size="16.6" text-anchor="middle" fill="#ff0000" stroke="#ff0000" stroke-width="0.3" transform="rotate(-90 1003.30 568.75)">Sun Phi</text>
<text x="1016.80" y="568.75" font-size="16.6" text-anchor="middle" fill="#ff0000" stroke="#ff0000" stroke-width="0.3" transform="rotate(-90 1016.80 568.75)">Angle [deg]</text>
<rect x="718.4" y="544.95" width="3.2" height="47.6" rx="1.6" fill="#ff0000"/>
<rect x="780.7" y="546.25" width="5.7" height="45" rx="1.2" fill="#ff0000"/>
<rect x="821.6" y="546.65" width="21.9" height="44.2" rx="1" fill="#ff0000"/>
<polyline points="837.10,524.50 838.15,526.00 838.25,527.50 838.26,529.00 838.23,530.50 837.41,532.00 837.35,533.50 837.74,535.00 837.03,536.50 837.81,538.00 837.56,539.50 837.61,541.00 837.51,542.50 838.09,544.00 837.52,545.50 837.08,547.00 837.28,548.50 837.28,550.00 837.68,551.50 837.65,553.00 837.51,554.50 837.61,556.00 837.65,557.50 837.35,559.00 837.68,560.50 837.34,562.00 836.91,563.50 837.89,565.00 837.50,566.50 837.97,568.00 837.59,569.50 837.68,571.00 837.19,572.50 836.92,574.00 837.80,575.50 837.64,577.00 837.35,578.50 837.50,580.00 838.04,581.50 837.66,583.00 837.83,584.50 838.34,586.00 837.63,587.50 837.72,589.00 837.38,590.50 837.36,592.00 837.71,593.50 838.10,595.00 837.85,596.50 837.99,598.00 837.25,599.50 838.45,601.00 837.96,602.50 838.30,604.00 836.83,605.50 837.50,607.00 837.76,608.50 837.36,610.00 837.53,611.50 837.16,613.00" fill="none" stroke="#ff0000" stroke-width="2.7"/>
<rect x="840.60" y="567.25" width="2.80" height="3.00" fill="#000"/>
<line x1="781.50" y1="568.75" x2="785.50" y2="568.75" stroke="#000" stroke-width="0.8"/>
<ellipse cx="860.7" cy="545.9" rx="2.4" ry="1.9" fill="#000"/>
<line x1="114.70" y1="711.20" x2="127.00" y2="711.20" stroke="#000" stroke-width="1.5"/>
<line x1="121.00" y1="697.66" x2="127.00" y2="697.66" stroke="#000" stroke-width="1.5"/>
<line x1="114.70" y1="684.12" x2="127.00" y2="684.12" stroke="#000" stroke-width="1.5"/>
<line x1="121.00" y1="670.58" x2="127.00" y2="670.58" stroke="#000" stroke-width="1.5"/>
<line x1="114.70" y1="657.04" x2="127.00" y2="657.04" stroke="#000" stroke-width="1.5"/>
<line x1="121.00" y1="643.50" x2="127.00" y2="643.50" stroke="#000" stroke-width="1.5"/>
<line x1="114.70" y1="629.96" x2="127.00" y2="629.96" stroke="#000" stroke-width="1.5"/>
<line x1="160.20" y1="621.00" x2="160.20" y2="623.00" stroke="#000" stroke-width="1.9"/>
<line x1="160.20" y1="711.20" x2="160.20" y2="713.20" stroke="#000" stroke-width="1.9"/>
<line x1="201.70" y1="619.00" x2="201.70" y2="623.00" stroke="#000" stroke-width="1.9"/>
<line x1="201.70" y1="711.20" x2="201.70" y2="715.20" stroke="#000" stroke-width="1.9"/>
<line x1="243.20" y1="621.00" x2="243.20" y2="623.00" stroke="#000" stroke-width="1.9"/>
<line x1="243.20" y1="711.20" x2="243.20" y2="713.20" stroke="#000" stroke-width="1.9"/>
<line x1="284.70" y1="619.00" x2="284.70" y2="623.00" stroke="#000" stroke-width="1.9"/>
<line x1="284.70" y1="711.20" x2="284.70" y2="715.20" stroke="#000" stroke-width="1.9"/>
<line x1="326.20" y1="621.00" x2="326.20" y2="623.00" stroke="#000" stroke-width="1.9"/>
<line x1="326.20" y1="711.20" x2="326.20" y2="713.20" stroke="#000" stroke-width="1.9"/>
<line x1="367.70" y1="619.00" x2="367.70" y2="623.00" stroke="#000" stroke-width="1.9"/>
<line x1="367.70" y1="711.20" x2="367.70" y2="715.20" stroke="#000" stroke-width="1.9"/>
<line x1="409.20" y1="621.00" x2="409.20" y2="623.00" stroke="#000" stroke-width="1.9"/>
<line x1="409.20" y1="711.20" x2="409.20" y2="713.20" stroke="#000" stroke-width="1.9"/>
<line x1="450.70" y1="619.00" x2="450.70" y2="623.00" stroke="#000" stroke-width="1.9"/>
<line x1="450.70" y1="711.20" x2="450.70" y2="715.20" stroke="#000" stroke-width="1.9"/>
<line x1="492.20" y1="621.00" x2="492.20" y2="623.00" stroke="#000" stroke-width="1.9"/>
<line x1="492.20" y1="711.20" x2="492.20" y2="713.20" stroke="#000" stroke-width="1.9"/>
<line x1="533.70" y1="619.00" x2="533.70" y2="623.00" stroke="#000" stroke-width="1.9"/>
<line x1="533.70" y1="711.20" x2="533.70" y2="715.20" stroke="#000" stroke-width="1.9"/>
<line x1="575.20" y1="621.00" x2="575.20" y2="623.00" stroke="#000" stroke-width="1.9"/>
<line x1="575.20" y1="711.20" x2="575.20" y2="713.20" stroke="#000" stroke-width="1.9"/>
<line x1="616.70" y1="619.00" x2="616.70" y2="623.00" stroke="#000" stroke-width="1.9"/>
<line x1="616.70" y1="711.20" x2="616.70" y2="715.20" stroke="#000" stroke-width="1.9"/>
<line x1="658.20" y1="621.00" x2="658.20" y2="623.00" stroke="#000" stroke-width="1.9"/>
<line x1="658.20" y1="711.20" x2="658.20" y2="713.20" stroke="#000" stroke-width="1.9"/>
<line x1="699.70" y1="619.00" x2="699.70" y2="623.00" stroke="#000" stroke-width="1.9"/>
<line x1="699.70" y1="711.20" x2="699.70" y2="715.20" stroke="#000" stroke-width="1.9"/>
<line x1="741.20" y1="621.00" x2="741.20" y2="623.00" stroke="#000" stroke-width="1.9"/>
<line x1="741.20" y1="711.20" x2="741.20" y2="713.20" stroke="#000" stroke-width="1.9"/>
<line x1="782.70" y1="619.00" x2="782.70" y2="623.00" stroke="#000" stroke-width="1.9"/>
<line x1="782.70" y1="711.20" x2="782.70" y2="715.20" stroke="#000" stroke-width="1.9"/>
<line x1="824.20" y1="621.00" x2="824.20" y2="623.00" stroke="#000" stroke-width="1.9"/>
<line x1="824.20" y1="711.20" x2="824.20" y2="713.20" stroke="#000" stroke-width="1.9"/>
<line x1="865.70" y1="619.00" x2="865.70" y2="623.00" stroke="#000" stroke-width="1.9"/>
<line x1="865.70" y1="711.20" x2="865.70" y2="715.20" stroke="#000" stroke-width="1.9"/>
<line x1="907.20" y1="621.00" x2="907.20" y2="623.00" stroke="#000" stroke-width="1.9"/>
<line x1="907.20" y1="711.20" x2="907.20" y2="713.20" stroke="#000" stroke-width="1.9"/>
<line x1="948.70" y1="619.00" x2="948.70" y2="623.00" stroke="#000" stroke-width="1.9"/>
<line x1="948.70" y1="711.20" x2="948.70" y2="715.20" stroke="#000" stroke-width="1.9"/>
<rect x="127.00" y="623.00" width="830.00" height="88.20" fill="none" stroke="#000" stroke-width="1.6"/>
<text x="110.20" y="636.60" font-size="16.2" text-anchor="end" fill="#000" stroke="#000" stroke-width="0.3" >12</text>
<text x="110.20" y="663.10" font-size="16.2" text-anchor="end" fill="#000" stroke="#000" stroke-width="0.3" >8</text>
<text x="110.20" y="690.20" font-size="16.2" text-anchor="end" fill="#000" stroke="#000" stroke-width="0.3" >4</text>
<text x="110.20" y="711.80" font-size="16.2" text-anchor="end" fill="#000" stroke="#000" stroke-width="0.3" >0</text>
<text x="51.80" y="667.00" font-size="16.6" text-anchor="middle" fill="#000" stroke="#000" stroke-width="0.3" transform="rotate(-90 51.80 667.00)">Sun-SC-</text>
<text x="65.30" y="667.00" font-size="16.6" text-anchor="middle" fill="#000" stroke="#000" stroke-width="0.3" transform="rotate(-90 65.30 667.00)">Earth Angle</text>
<text x="78.40" y="667.00" font-size="16.6" text-anchor="middle" fill="#000" stroke="#000" stroke-width="0.3" transform="rotate(-90 78.40 667.00)">[deg]</text>
<line x1="957.00" y1="711.20" x2="969.30" y2="711.20" stroke="#ff0000" stroke-width="1.5"/>
<line x1="957.00" y1="698.45" x2="963.30" y2="698.45" stroke="#ff0000" stroke-width="1.5"/>
<line x1="957.00" y1="685.70" x2="969.30" y2="685.70" stroke="#ff0000" stroke-width="1.5"/>
<line x1="957.00" y1="672.95" x2="963.30" y2="672.95" stroke="#ff0000" stroke-width="1.5"/>
<line x1="957.00" y1="660.20" x2="969.30" y2="660.20" stroke="#ff0000" stroke-width="1.5"/>
<line x1="957.00" y1="647.45" x2="963.30" y2="647.45" stroke="#ff0000" stroke-width="1.5"/>
<line x1="957.00" y1="634.70" x2="969.30" y2="634.70" stroke="#ff0000" stroke-width="1.5"/>
<line x1="957.00" y1="623.00" x2="957.00" y2="711.20" stroke="#ff0000" stroke-width="1.6"/>
<line x1="957.00" y1="623.00" x2="963.30" y2="623.00" stroke="#ff0000" stroke-width="1.5"/>
<text x="974.30" y="642.40" font-size="16.2" text-anchor="start" fill="#ff0000" stroke="#ff0000" stroke-width="0.3" >3</text>
<text x="974.30" y="667.20" font-size="16.2" text-anchor="start" fill="#ff0000" stroke="#ff0000" stroke-width="0.3" >2</text>
<text x="974.30" y="693.20" font-size="16.2" text-anchor="start" fill="#ff0000" stroke="#ff0000" stroke-width="0.3" >1</text>
<text x="974.30" y="711.40" font-size="16.2" text-anchor="start" fill="#ff0000" stroke="#ff0000" stroke-width="0.3" >0</text>
<text x="999.00" y="670.00" font-size="16.6" text-anchor="middle" fill="#ff0000" stroke="#ff0000" stroke-width="0.3" transform="rotate(-90 999.00 670.00)">Sun-SC-</text>
<text x="1012.60" y="667.00" font-size="16.6" text-anchor="middle" fill="#ff0000" stroke="#ff0000" stroke-width="0.3" transform="rotate(-90 1012.60 667.00)">Earth Angle</text>
<text x="1026.00" y="667.50" font-size="16.6" text-anchor="middle" fill="#ff0000" stroke="#ff0000" stroke-width="0.3" transform="rotate(-90 1026.00 667.50)">[deg]</text>
<polyline points="127.00,690.75 131.00,690.49 135.00,690.23 139.00,689.97 143.00,689.71 147.00,689.46 151.00,689.21 155.00,688.96 159.00,688.71 163.00,688.47 167.00,688.22 171.00,687.98 175.00,687.75 179.00,687.51 183.00,687.28 187.00,687.05 191.00,686.82 195.00,686.59 199.00,686.37 203.00,686.14 207.00,685.92 211.00,685.71 215.00,685.49 219.00,685.28 223.00,685.07 227.00,684.86 231.00,684.65 235.00,684.45 239.00,684.25 243.00,684.05 247.00,683.85 251.00,683.66 255.00,683.47 259.00,683.28 263.00,683.09 267.00,682.90 271.00,682.72 275.00,682.54 279.00,682.36 283.00,682.18 287.00,682.01 291.00,681.84 295.00,681.67 299.00,681.50 303.00,681.34 307.00,681.18 311.00,681.02 315.00,680.86 319.00,680.70 323.00,680.55 327.00,680.40 331.00,680.25 335.00,680.10 339.00,679.96 343.00,679.82 347.00,679.68 351.00,679.54 355.00,679.40 359.00,679.27 363.00,679.14 367.00,679.01 371.00,678.89 375.00,678.76 379.00,678.64 383.00,678.52 387.00,678.41 391.00,678.29 395.00,678.18 399.00,678.07 403.00,677.96 407.00,677.86 411.00,677.75 415.00,677.65 419.00,677.55 423.00,677.46 427.00,677.36 431.00,677.27 435.00,677.18 439.00,677.10 443.00,677.01 447.00,676.93 451.00,676.85 455.00,676.77 459.00,676.70 463.00,676.62 467.00,676.55 471.00,676.48 475.00,676.42 479.00,676.35 483.00,676.29 487.00,676.23 491.00,676.17 495.00,676.12 499.00,676.07 503.00,676.02 507.00,675.97 511.00,675.92 515.00,675.88 519.00,675.84 523.00,675.80 527.00,675.76 531.00,675.73 535.00,675.69 539.00,675.67 543.00,675.64 547.00,675.61 551.00,675.59 555.00,675.57 559.00,675.55 563.00,675.53 567.00,675.52 571.00,675.51 575.00,675.50 579.00,675.49 583.00,675.49 587.00,675.49 591.00,675.49 595.00,675.49 599.00,675.49 603.00,675.50 607.00,675.51 611.00,675.52 615.00,675.53 619.00,675.55 623.00,675.57 627.00,675.59 631.00,675.61 635.00,675.64 639.00,675.66 643.00,675.69 647.00,675.73 651.00,675.76 655.00,675.80 659.00,675.83 663.00,675.88 667.00,675.92 671.00,675.97 675.00,676.01 679.00,676.06 683.00,676.12 687.00,676.17 691.00,676.23 695.00,676.29 699.00,676.35 703.00,676.41 707.00,676.48 711.00,676.55 715.00,676.62 719.00,676.69 723.00,676.77 727.00,676.85 731.00,676.93 735.00,677.01 739.00,677.09 743.00,677.18 747.00,677.27 751.00,677.36 755.00,677.45 759.00,677.55 763.00,677.65 767.00,677.75 771.00,677.85 775.00,677.96 779.00,678.06 783.00,678.17 787.00,678.29 791.00,678.40 795.00,678.52 799.00,678.64 803.00,678.76 807.00,678.88 811.00,679.01 815.00,679.13 819.00,679.26 823.00,679.40 827.00,679.53 831.00,679.67 835.00,679.81 839.00,679.95 843.00,680.09 847.00,680.24 851.00,680.39 855.00,680.54 859.00,680.69 863.00,680.85 867.00,681.01 871.00,681.17 875.00,681.33 879.00,681.49 883.00,681.66 887.00,681.83 891.00,682.00 895.00,682.18 899.00,682.35 903.00,682.53 907.00,682.71 911.00,682.89 915.00,683.08 919.00,683.27 923.00,683.46 927.00,683.65 931.00,683.84 935.00,684.04 939.00,684.24 943.00,684.44 947.00,684.64 951.00,684.85 955.00,685.06 957.00,685.16" fill="none" stroke="#000" stroke-width="1.6"/>
<circle cx="127.00" cy="690.75" r="1.25" fill="#000"/>
<circle cx="135.30" cy="690.21" r="1.25" fill="#000"/>
<circle cx="143.60" cy="689.68" r="1.25" fill="#000"/>
<circle cx="151.90" cy="689.15" r="1.25" fill="#000"/>
<circle cx="160.20" cy="688.64" r="1.25" fill="#000"/>
<circle cx="168.50" cy="688.13" r="1.25" fill="#000"/>
<circle cx="176.80" cy="687.64" r="1.25" fill="#000"/>
<circle cx="185.10" cy="687.16" r="1.25" fill="#000"/>
<circle cx="193.40" cy="686.68" r="1.25" fill="#000"/>
<circle cx="201.70" cy="686.22" r="1.25" fill="#000"/>
<circle cx="210.00" cy="685.76" r="1.25" fill="#000"/>
<circle cx="218.30" cy="685.32" r="1.25" fill="#000"/>
<circle cx="226.60" cy="684.88" r="1.25" fill="#000"/>
<circle cx="234.90" cy="684.46" r="1.25" fill="#000"/>
<circle cx="243.20" cy="684.04" r="1.25" fill="#000"/>
<circle cx="251.50" cy="683.63" r="1.25" fill="#000"/>
<circle cx="259.80" cy="683.24" r="1.25" fill="#000"/>
<circle cx="268.10" cy="682.85" r="1.25" fill="#000"/>
<circle cx="276.40" cy="682.48" r="1.25" fill="#000"/>
<circle cx="284.70" cy="682.11" r="1.25" fill="#000"/>
<circle cx="293.00" cy="681.75" r="1.25" fill="#000"/>
<circle cx="301.30" cy="681.41" r="1.25" fill="#000"/>
<circle cx="309.60" cy="681.07" r="1.25" fill="#000"/>
<circle cx="317.90" cy="680.74" r="1.25" fill="#000"/>
<circle cx="326.20" cy="680.43" r="1.25" fill="#000"/>
<circle cx="334.50" cy="680.12" r="1.25" fill="#000"/>
<circle cx="342.80" cy="679.82" r="1.25" fill="#000"/>
<circle cx="351.10" cy="679.54" r="1.25" fill="#000"/>
<circle cx="359.40" cy="679.26" r="1.25" fill="#000"/>
<circle cx="367.70" cy="678.99" r="1.25" fill="#000"/>
<circle cx="376.00" cy="678.73" r="1.25" fill="#000"/>
<circle cx="384.30" cy="678.48" r="1.25" fill="#000"/>
<circle cx="392.60" cy="678.25" r="1.25" fill="#000"/>
<circle cx="400.90" cy="678.02" r="1.25" fill="#000"/>
<circle cx="409.20" cy="677.80" r="1.25" fill="#000"/>
<circle cx="417.50" cy="677.59" r="1.25" fill="#000"/>
<circle cx="425.80" cy="677.39" r="1.25" fill="#000"/>
<circle cx="434.10" cy="677.20" r="1.25" fill="#000"/>
<circle cx="442.40" cy="677.02" r="1.25" fill="#000"/>
<circle cx="450.70" cy="676.86" r="1.25" fill="#000"/>
<circle cx="459.00" cy="676.70" r="1.25" fill="#000"/>
<circle cx="467.30" cy="676.55" r="1.25" fill="#000"/>
<circle cx="475.60" cy="676.41" r="1.25" fill="#000"/>
<circle cx="483.90" cy="676.28" r="1.25" fill="#000"/>
<circle cx="492.20" cy="676.16" r="1.25" fill="#000"/>
<circle cx="500.50" cy="676.05" r="1.25" fill="#000"/>
<circle cx="508.80" cy="675.95" r="1.25" fill="#000"/>
<circle cx="517.10" cy="675.86" r="1.25" fill="#000"/>
<circle cx="525.40" cy="675.78" r="1.25" fill="#000"/>
<circle cx="533.70" cy="675.71" r="1.25" fill="#000"/>
<circle cx="542.00" cy="675.64" r="1.25" fill="#000"/>
<circle cx="550.30" cy="675.59" r="1.25" fill="#000"/>
<circle cx="558.60" cy="675.55" r="1.25" fill="#000"/>
<circle cx="566.90" cy="675.52" r="1.25" fill="#000"/>
<circle cx="575.20" cy="675.50" r="1.25" fill="#000"/>
<circle cx="583.50" cy="675.49" r="1.25" fill="#000"/>
<circle cx="591.80" cy="675.49" r="1.25" fill="#000"/>
<circle cx="600.10" cy="675.49" r="1.25" fill="#000"/>
<circle cx="608.40" cy="675.51" r="1.25" fill="#000"/>
<circle cx="616.70" cy="675.54" r="1.25" fill="#000"/>
<circle cx="625.00" cy="675.58" r="1.25" fill="#000"/>
<circle cx="633.30" cy="675.63" r="1.25" fill="#000"/>
<circle cx="641.60" cy="675.68" r="1.25" fill="#000"/>
<circle cx="649.90" cy="675.75" r="1.25" fill="#000"/>
<circle cx="658.20" cy="675.83" r="1.25" fill="#000"/>
<circle cx="666.50" cy="675.91" r="1.25" fill="#000"/>
<circle cx="674.80" cy="676.01" r="1.25" fill="#000"/>
<circle cx="683.10" cy="676.12" r="1.25" fill="#000"/>
<circle cx="691.40" cy="676.23" r="1.25" fill="#000"/>
<circle cx="699.70" cy="676.36" r="1.25" fill="#000"/>
<circle cx="708.00" cy="676.50" r="1.25" fill="#000"/>
<circle cx="716.30" cy="676.64" r="1.25" fill="#000"/>
<circle cx="724.60" cy="676.80" r="1.25" fill="#000"/>
<circle cx="732.90" cy="676.96" r="1.25" fill="#000"/>
<circle cx="741.20" cy="677.14" r="1.25" fill="#000"/>
<circle cx="749.50" cy="677.33" r="1.25" fill="#000"/>
<circle cx="757.80" cy="677.52" r="1.25" fill="#000"/>
<circle cx="766.10" cy="677.73" r="1.25" fill="#000"/>
<circle cx="774.40" cy="677.94" r="1.25" fill="#000"/>
<circle cx="782.70" cy="678.17" r="1.25" fill="#000"/>
<circle cx="791.00" cy="678.40" r="1.25" fill="#000"/>
<circle cx="799.30" cy="678.64" r="1.25" fill="#000"/>
<circle cx="807.60" cy="678.90" r="1.25" fill="#000"/>
<circle cx="815.90" cy="679.16" r="1.25" fill="#000"/>
<circle cx="824.20" cy="679.44" r="1.25" fill="#000"/>
<circle cx="832.50" cy="679.72" r="1.25" fill="#000"/>
<circle cx="840.80" cy="680.02" r="1.25" fill="#000"/>
<circle cx="849.10" cy="680.32" r="1.25" fill="#000"/>
<circle cx="857.40" cy="680.63" r="1.25" fill="#000"/>
<circle cx="865.70" cy="680.96" r="1.25" fill="#000"/>
<circle cx="874.00" cy="681.29" r="1.25" fill="#000"/>
<circle cx="882.30" cy="681.63" r="1.25" fill="#000"/>
<circle cx="890.60" cy="681.99" r="1.25" fill="#000"/>
<circle cx="898.90" cy="682.35" r="1.25" fill="#000"/>
<circle cx="907.20" cy="682.72" r="1.25" fill="#000"/>
<circle cx="915.50" cy="683.10" r="1.25" fill="#000"/>
<circle cx="923.80" cy="683.50" r="1.25" fill="#000"/>
<circle cx="932.10" cy="683.90" r="1.25" fill="#000"/>
<circle cx="940.40" cy="684.31" r="1.25" fill="#000"/>
<circle cx="948.70" cy="684.73" r="1.25" fill="#000"/>
<line x1="127.0" y1="635.3" x2="178.8" y2="623.0" stroke="#ff0000" stroke-width="1.9"/>
<circle cx="127.00" cy="635.30" r="1.3" fill="#ff0000"/>
<circle cx="135.30" cy="633.33" r="1.3" fill="#ff0000"/>
<circle cx="143.60" cy="631.36" r="1.3" fill="#ff0000"/>
<circle cx="151.90" cy="629.39" r="1.3" fill="#ff0000"/>
<circle cx="160.20" cy="627.42" r="1.3" fill="#ff0000"/>
<circle cx="168.50" cy="625.45" r="1.3" fill="#ff0000"/>
<circle cx="176.80" cy="623.47" r="1.3" fill="#ff0000"/>
<text x="45.00" y="733.80" font-size="15.0" text-anchor="start" fill="#000" stroke="#000" stroke-width="0.3" >DOY</text>
<text x="45.00" y="746.50" font-size="15.0" text-anchor="start" fill="#000" stroke="#000" stroke-width="0.3" >MM/DD</text>
<text x="45.00" y="759.00" font-size="15.0" text-anchor="start" fill="#000" stroke="#000" stroke-width="0.3" >AU</text>
<text x="201.70" y="733.70" font-size="15.0" text-anchor="middle" fill="#000" stroke="#000" stroke-width="0.3" >210</text>
<text x="284.70" y="733.70" font-size="15.0" text-anchor="middle" fill="#000" stroke="#000" stroke-width="0.3" >220</text>
<text x="367.70" y="733.70" font-size="15.0" text-anchor="middle" fill="#000" stroke="#000" stroke-width="0.3" >230</text>
<text x="450.70" y="733.70" font-size="15.0" text-anchor="middle" fill="#000" stroke="#000" stroke-width="0.3" >240</text>
<text x="533.70" y="733.70" font-size="15.0" text-anchor="middle" fill="#000" stroke="#000" stroke-width="0.3" >250</text>
<text x="616.70" y="733.70" font-size="15.0" text-anchor="middle" fill="#000" stroke="#000" stroke-width="0.3" >260</text>
<text x="699.70" y="733.70" font-size="15.0" text-anchor="middle" fill="#000" stroke="#000" stroke-width="0.3" >270</text>
<text x="782.70" y="733.70" font-size="15.0" text-anchor="middle" fill="#000" stroke="#000" stroke-width="0.3" >280</text>
<text x="865.70" y="733.70" font-size="15.0" text-anchor="middle" fill="#000" stroke="#000" stroke-width="0.3" >290</text>
<text x="948.70" y="733.70" font-size="15.0" text-anchor="middle" fill="#000" stroke="#000" stroke-width="0.3" >300</text>
<text x="284.70" y="746.50" font-size="15.0" text-anchor="middle" fill="#000" stroke="#000" stroke-width="0.3" >08/07</text>
<text x="450.70" y="746.50" font-size="15.0" text-anchor="middle" fill="#000" stroke="#000" stroke-width="0.3" >08/27</text>
<text x="616.70" y="746.50" font-size="15.0" text-anchor="middle" fill="#000" stroke="#000" stroke-width="0.3" >09/16</text>
<text x="782.70" y="746.50" font-size="15.0" text-anchor="middle" fill="#000" stroke="#000" stroke-width="0.3" >10/06</text>
<text x="948.70" y="746.50" font-size="15.0" text-anchor="middle" fill="#000" stroke="#000" stroke-width="0.3" >10/26</text>
<text x="367.70" y="758.80" font-size="15.0" text-anchor="middle" fill="#000" stroke="#000" stroke-width="0.3" >10.74</text>
<text x="616.70" y="758.80" font-size="15.0" text-anchor="middle" fill="#000" stroke="#000" stroke-width="0.3" >11.03</text>
<text x="865.70" y="758.80" font-size="15.0" text-anchor="middle" fill="#000" stroke="#000" stroke-width="0.3" >11.32</text>
<text x="83.50" y="802.30" font-size="11.7" text-anchor="start" fill="#222" stroke="#222" stroke-width="0" xml:space="preserve">Software Version:  &#8217; 3.00000&#8217;  Processed: 2014-09-11T09:53:53</text>
<text x="83.50" y="818.80" font-size="11.7" text-anchor="start" fill="#222" stroke="#222" stroke-width="0" >Plot Created: Mon Sep 29 11:29:52 2014</text>
<text x="83.50" y="835.50" font-size="11.7" text-anchor="start" fill="#222" stroke="#222" stroke-width="0" >Files: 0084844800_0x584_sci_1.fit to 0087350400_0x584_sci_1.fit</text>
<text x="572.00" y="802.30" font-size="11.7" text-anchor="start" fill="#222" stroke="#222" stroke-width="0" >Spectrogram Timing Accurate to Within: 32.00 [sec]</text>
<text x="572.00" y="818.80" font-size="11.7" text-anchor="start" fill="#222" stroke="#222" stroke-width="0" >Plot Width:: 0.754545 [norm]</text>
<text x="572.00" y="835.50" font-size="11.7" text-anchor="start" fill="#222" stroke="#222" stroke-width="0" >Plot Width: 8.3000 [in]</text>
</svg></div></body></html>
